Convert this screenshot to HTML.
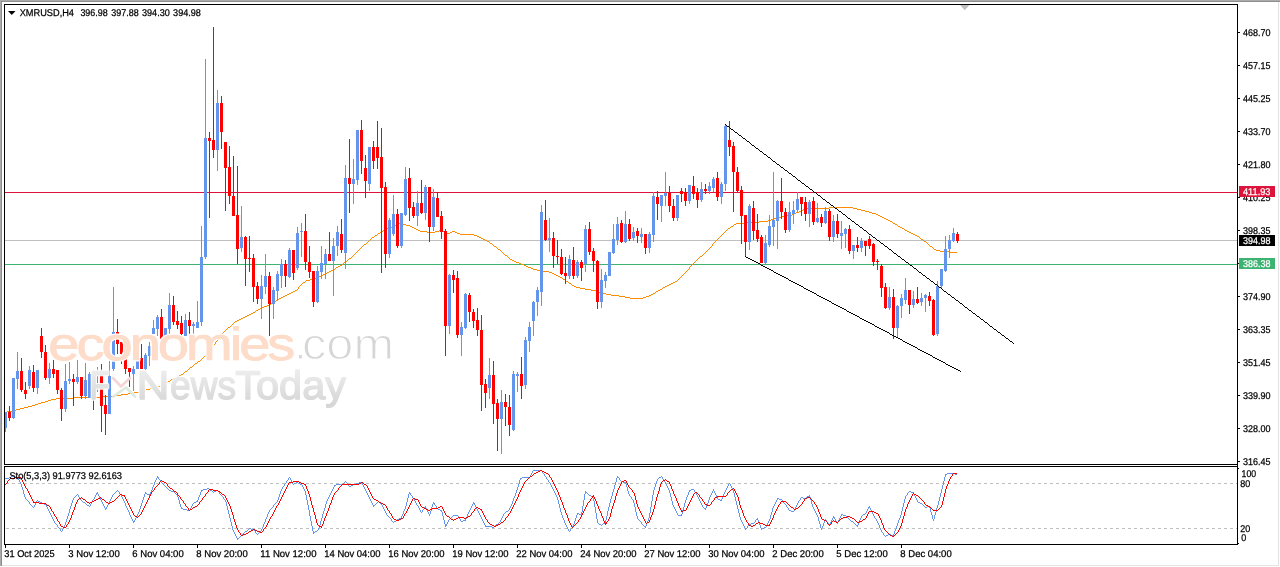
<!DOCTYPE html>
<html><head><meta charset="utf-8"><title>XMRUSD,H4</title>
<style>html,body{margin:0;padding:0;background:#fff;overflow:hidden}svg{display:block}text{font-family:"Liberation Sans",sans-serif;text-rendering:geometricPrecision}</style></head><body>
<svg width="1280" height="567" viewBox="0 0 1280 567">
<rect x="0" y="0" width="1280" height="567" fill="#ffffff"/>
<g shape-rendering="crispEdges">
<rect x="5" y="192" width="1232" height="1" fill="#DC143C"/>
<rect x="5" y="240" width="1232" height="1" fill="#C0C0C0"/>
<rect x="5" y="264" width="1232" height="1" fill="#3CB371"/>
</g>
<path d="M829 207h24v1h-24zM805 208h24v1h-24zM853 208h4v1h-4zM803 209h2v1h-2zM857 209h4v1h-4zM801 210h2v1h-2zM861 210h4v1h-4zM799 211h2v1h-2zM865 211h4v1h-4zM796 212h3v1h-3zM869 212h3v1h-3zM794 213h2v1h-2zM872 213h4v1h-4zM792 214h2v1h-2zM876 214h2v1h-2zM787 215h5v1h-5zM878 215h2v1h-2zM781 216h6v1h-6zM880 216h2v1h-2zM776 217h5v1h-5zM882 217h2v1h-2zM773 218h3v1h-3zM884 218h2v1h-2zM771 219h2v1h-2zM886 219h2v1h-2zM768 220h3v1h-3zM888 220h2v1h-2zM759 221h9v1h-9zM890 221h2v1h-2zM744 222h15v1h-15zM892 222h1v1h-1zM399 223h3v1h-3zM736 223h8v1h-8zM893 223h2v1h-2zM397 224h2v1h-2zM402 224h4v1h-4zM734 224h2v1h-2zM895 224h2v1h-2zM394 225h3v1h-3zM406 225h4v1h-4zM733 225h1v1h-1zM897 225h1v1h-1zM392 226h2v1h-2zM410 226h2v1h-2zM731 226h2v1h-2zM898 226h2v1h-2zM390 227h2v1h-2zM412 227h2v1h-2zM730 227h1v1h-1zM900 227h2v1h-2zM387 228h3v1h-3zM414 228h2v1h-2zM728 228h2v1h-2zM902 228h2v1h-2zM385 229h2v1h-2zM416 229h2v1h-2zM727 229h1v1h-1zM904 229h1v1h-1zM383 230h2v1h-2zM418 230h2v1h-2zM439 230h3v1h-3zM726 230h1v1h-1zM905 230h2v1h-2zM381 231h2v1h-2zM420 231h7v1h-7zM435 231h4v1h-4zM442 231h2v1h-2zM452 231h3v1h-3zM725 231h1v1h-1zM907 231h2v1h-2zM380 232h1v1h-1zM427 232h8v1h-8zM444 232h3v1h-3zM450 232h2v1h-2zM455 232h2v1h-2zM724 232h1v1h-1zM909 232h2v1h-2zM378 233h2v1h-2zM447 233h3v1h-3zM457 233h3v1h-3zM723 233h1v1h-1zM911 233h2v1h-2zM377 234h1v1h-1zM460 234h14v1h-14zM722 234h1v1h-1zM913 234h2v1h-2zM375 235h2v1h-2zM474 235h3v1h-3zM721 235h1v1h-1zM915 235h2v1h-2zM374 236h1v1h-1zM477 236h2v1h-2zM720 236h1v1h-1zM917 236h2v1h-2zM372 237h2v1h-2zM479 237h2v1h-2zM719 237h1v1h-1zM919 237h1v1h-1zM371 238h1v1h-1zM481 238h2v1h-2zM718 238h1v1h-1zM920 238h1v1h-1zM370 239h1v1h-1zM483 239h2v1h-2zM717 239h1v1h-1zM921 239h2v1h-2zM369 240h1v1h-1zM485 240h2v1h-2zM716 240h1v1h-1zM923 240h1v1h-1zM368 241h1v1h-1zM487 241h2v1h-2zM715 241h1v1h-1zM924 241h2v1h-2zM367 242h1v1h-1zM489 242h1v1h-1zM714 242h1v1h-1zM926 242h1v1h-1zM366 243h1v1h-1zM490 243h2v1h-2zM713 243h1v1h-1zM927 243h1v1h-1zM364 244h2v1h-2zM492 244h1v1h-1zM712 244h1v1h-1zM928 244h1v1h-1zM363 245h1v1h-1zM493 245h1v1h-1zM712 245h1v1h-1zM929 245h1v1h-1zM362 246h1v1h-1zM494 246h2v1h-2zM711 246h1v1h-1zM930 246h2v1h-2zM361 247h1v1h-1zM496 247h1v1h-1zM710 247h1v1h-1zM932 247h1v1h-1zM360 248h1v1h-1zM497 248h1v1h-1zM709 248h1v1h-1zM933 248h1v1h-1zM359 249h1v1h-1zM498 249h2v1h-2zM708 249h1v1h-1zM934 249h2v1h-2zM358 250h1v1h-1zM500 250h1v1h-1zM707 250h1v1h-1zM936 250h4v1h-4zM357 251h1v1h-1zM501 251h1v1h-1zM706 251h1v1h-1zM940 251h9v1h-9zM356 252h1v1h-1zM502 252h1v1h-1zM705 252h1v1h-1zM949 252h8v1h-8zM355 253h1v1h-1zM503 253h1v1h-1zM704 253h1v1h-1zM354 254h1v1h-1zM504 254h1v1h-1zM703 254h1v1h-1zM353 255h1v1h-1zM505 255h2v1h-2zM702 255h1v1h-1zM352 256h1v1h-1zM507 256h1v1h-1zM700 256h2v1h-2zM351 257h1v1h-1zM508 257h1v1h-1zM699 257h1v1h-1zM349 258h2v1h-2zM509 258h1v1h-1zM698 258h1v1h-1zM348 259h1v1h-1zM510 259h2v1h-2zM697 259h1v1h-1zM347 260h1v1h-1zM512 260h2v1h-2zM696 260h1v1h-1zM346 261h1v1h-1zM514 261h2v1h-2zM695 261h1v1h-1zM344 262h2v1h-2zM516 262h3v1h-3zM694 262h1v1h-1zM343 263h1v1h-1zM519 263h2v1h-2zM693 263h1v1h-1zM342 264h1v1h-1zM521 264h3v1h-3zM692 264h1v1h-1zM340 265h2v1h-2zM524 265h2v1h-2zM691 265h1v1h-1zM338 266h2v1h-2zM526 266h2v1h-2zM690 266h1v1h-1zM336 267h2v1h-2zM528 267h3v1h-3zM689 267h1v1h-1zM335 268h1v1h-1zM531 268h2v1h-2zM689 268h1v1h-1zM333 269h2v1h-2zM533 269h4v1h-4zM688 269h1v1h-1zM331 270h2v1h-2zM537 270h6v1h-6zM687 270h1v1h-1zM329 271h2v1h-2zM543 271h6v1h-6zM686 271h1v1h-1zM327 272h2v1h-2zM549 272h3v1h-3zM685 272h1v1h-1zM325 273h2v1h-2zM552 273h2v1h-2zM684 273h1v1h-1zM323 274h2v1h-2zM554 274h2v1h-2zM683 274h1v1h-1zM321 275h2v1h-2zM556 275h2v1h-2zM682 275h1v1h-1zM319 276h2v1h-2zM558 276h2v1h-2zM681 276h1v1h-1zM317 277h2v1h-2zM560 277h2v1h-2zM680 277h1v1h-1zM315 278h2v1h-2zM562 278h1v1h-1zM679 278h1v1h-1zM310 279h5v1h-5zM563 279h2v1h-2zM678 279h1v1h-1zM306 280h4v1h-4zM565 280h1v1h-1zM677 280h1v1h-1zM305 281h1v1h-1zM566 281h2v1h-2zM675 281h2v1h-2zM303 282h2v1h-2zM568 282h1v1h-1zM673 282h2v1h-2zM302 283h1v1h-1zM569 283h2v1h-2zM671 283h2v1h-2zM301 284h1v1h-1zM571 284h1v1h-1zM669 284h2v1h-2zM300 285h1v1h-1zM572 285h2v1h-2zM667 285h2v1h-2zM299 286h1v1h-1zM574 286h2v1h-2zM665 286h2v1h-2zM298 287h1v1h-1zM576 287h4v1h-4zM663 287h2v1h-2zM298 288h1v1h-1zM580 288h5v1h-5zM662 288h1v1h-1zM297 289h1v1h-1zM585 289h6v1h-6zM660 289h2v1h-2zM295 290h2v1h-2zM591 290h5v1h-5zM658 290h2v1h-2zM293 291h2v1h-2zM596 291h3v1h-3zM656 291h2v1h-2zM291 292h2v1h-2zM599 292h4v1h-4zM655 292h1v1h-1zM289 293h2v1h-2zM603 293h3v1h-3zM653 293h2v1h-2zM287 294h2v1h-2zM606 294h5v1h-5zM651 294h2v1h-2zM285 295h2v1h-2zM611 295h8v1h-8zM649 295h2v1h-2zM283 296h2v1h-2zM619 296h6v1h-6zM646 296h3v1h-3zM281 297h2v1h-2zM625 297h5v1h-5zM643 297h3v1h-3zM279 298h2v1h-2zM630 298h13v1h-13zM278 299h1v1h-1zM276 300h2v1h-2zM275 301h1v1h-1zM273 302h2v1h-2zM271 303h2v1h-2zM269 304h2v1h-2zM267 305h2v1h-2zM264 306h3v1h-3zM262 307h2v1h-2zM260 308h2v1h-2zM258 309h2v1h-2zM256 310h2v1h-2zM255 311h1v1h-1zM253 312h2v1h-2zM251 313h2v1h-2zM249 314h2v1h-2zM247 315h2v1h-2zM245 316h2v1h-2zM243 317h2v1h-2zM241 318h2v1h-2zM239 319h2v1h-2zM237 320h2v1h-2zM235 321h2v1h-2zM234 322h1v1h-1zM233 323h1v1h-1zM232 324h1v1h-1zM231 325h1v1h-1zM230 326h1v1h-1zM228 327h2v1h-2zM227 328h1v1h-1zM226 329h1v1h-1zM225 330h1v1h-1zM224 331h1v1h-1zM223 332h1v1h-1zM222 333h1v1h-1zM221 334h1v1h-1zM221 335h1v1h-1zM220 336h1v1h-1zM219 337h1v1h-1zM218 338h1v1h-1zM218 339h1v1h-1zM217 340h1v1h-1zM216 341h1v1h-1zM215 342h1v1h-1zM215 343h1v1h-1zM214 344h1v1h-1zM213 345h1v1h-1zM212 346h1v1h-1zM212 347h1v1h-1zM211 348h1v1h-1zM210 349h1v1h-1zM209 350h1v1h-1zM208 351h1v1h-1zM208 352h1v1h-1zM207 353h1v1h-1zM206 354h1v1h-1zM205 355h1v1h-1zM204 356h1v1h-1zM203 357h1v1h-1zM202 358h1v1h-1zM201 359h1v1h-1zM200 360h1v1h-1zM198 361h2v1h-2zM197 362h1v1h-1zM195 363h2v1h-2zM194 364h1v1h-1zM193 365h1v1h-1zM192 366h1v1h-1zM190 367h2v1h-2zM189 368h1v1h-1zM188 369h1v1h-1zM187 370h1v1h-1zM185 371h2v1h-2zM184 372h1v1h-1zM183 373h1v1h-1zM181 374h2v1h-2zM179 375h2v1h-2zM177 376h2v1h-2zM175 377h2v1h-2zM173 378h2v1h-2zM171 379h2v1h-2zM170 380h1v1h-1zM168 381h2v1h-2zM166 382h2v1h-2zM165 383h1v1h-1zM163 384h2v1h-2zM161 385h2v1h-2zM158 386h3v1h-3zM154 387h4v1h-4zM150 388h4v1h-4zM146 389h4v1h-4zM143 390h3v1h-3zM139 391h4v1h-4zM134 392h5v1h-5zM128 393h6v1h-6zM121 394h7v1h-7zM115 395h6v1h-6zM100 396h15v1h-15zM74 397h26v1h-26zM56 398h18v1h-18zM51 399h5v1h-5zM48 400h3v1h-3zM45 401h3v1h-3zM41 402h4v1h-4zM38 403h3v1h-3zM35 404h3v1h-3zM32 405h3v1h-3zM28 406h4v1h-4zM24 407h4v1h-4zM20 408h4v1h-4zM16 409h4v1h-4zM12 410h4v1h-4zM7 411h5v1h-5zM4 412h3v1h-3z" fill="#FF8C00" shape-rendering="crispEdges"/>
<g shape-rendering="crispEdges">
<rect x="5" y="412" width="1" height="20" fill="#6495ED"/>
<rect x="4" y="412" width="3" height="16" fill="#6495ED"/>
<rect x="9" y="406" width="1" height="15" fill="#FF0000"/>
<rect x="8" y="412" width="3" height="6" fill="#FF0000"/>
<rect x="13" y="378" width="1" height="41" fill="#6495ED"/>
<rect x="12" y="378" width="3" height="40" fill="#6495ED"/>
<rect x="17" y="352" width="1" height="37" fill="#6495ED"/>
<rect x="16" y="371" width="3" height="8" fill="#6495ED"/>
<rect x="21" y="358" width="1" height="34" fill="#FF0000"/>
<rect x="20" y="371" width="3" height="19" fill="#FF0000"/>
<rect x="25" y="382" width="1" height="17" fill="#FF0000"/>
<rect x="24" y="390" width="3" height="4" fill="#FF0000"/>
<rect x="29" y="366" width="1" height="23" fill="#6495ED"/>
<rect x="28" y="370" width="3" height="16" fill="#6495ED"/>
<rect x="33" y="365" width="1" height="27" fill="#FF0000"/>
<rect x="32" y="372" width="3" height="16" fill="#FF0000"/>
<rect x="37" y="370" width="1" height="24" fill="#6495ED"/>
<rect x="36" y="370" width="3" height="18" fill="#6495ED"/>
<rect x="41" y="328" width="1" height="30" fill="#FF0000"/>
<rect x="40" y="336" width="3" height="16" fill="#FF0000"/>
<rect x="45" y="345" width="1" height="35" fill="#FF0000"/>
<rect x="44" y="352" width="3" height="26" fill="#FF0000"/>
<rect x="49" y="363" width="1" height="21" fill="#6495ED"/>
<rect x="48" y="369" width="3" height="9" fill="#6495ED"/>
<rect x="53" y="360" width="1" height="18" fill="#FF0000"/>
<rect x="52" y="369" width="3" height="5" fill="#FF0000"/>
<rect x="57" y="370" width="1" height="24" fill="#FF0000"/>
<rect x="56" y="370" width="3" height="20" fill="#FF0000"/>
<rect x="61" y="388" width="1" height="33" fill="#FF0000"/>
<rect x="60" y="390" width="3" height="19" fill="#FF0000"/>
<rect x="65" y="364" width="1" height="48" fill="#6495ED"/>
<rect x="64" y="381" width="3" height="28" fill="#6495ED"/>
<rect x="69" y="362" width="1" height="22" fill="#6495ED"/>
<rect x="68" y="379" width="3" height="2" fill="#6495ED"/>
<rect x="73" y="374" width="1" height="32" fill="#FF0000"/>
<rect x="72" y="379" width="3" height="3" fill="#FF0000"/>
<rect x="77" y="360" width="1" height="24" fill="#6495ED"/>
<rect x="76" y="377" width="3" height="5" fill="#6495ED"/>
<rect x="81" y="377" width="1" height="22" fill="#FF0000"/>
<rect x="80" y="377" width="3" height="19" fill="#FF0000"/>
<rect x="85" y="363" width="1" height="36" fill="#6495ED"/>
<rect x="84" y="380" width="3" height="16" fill="#6495ED"/>
<rect x="89" y="372" width="1" height="26" fill="#6495ED"/>
<rect x="88" y="374" width="3" height="24" fill="#6495ED"/>
<rect x="93" y="373" width="1" height="37" fill="#FF0000"/>
<rect x="92" y="374" width="3" height="2" fill="#FF0000"/>
<rect x="97" y="367" width="1" height="25" fill="#6495ED"/>
<rect x="96" y="375" width="3" height="1" fill="#6495ED"/>
<rect x="101" y="364" width="1" height="68" fill="#FF0000"/>
<rect x="100" y="375" width="3" height="31" fill="#FF0000"/>
<rect x="105" y="395" width="1" height="40" fill="#FF0000"/>
<rect x="104" y="405" width="3" height="9" fill="#FF0000"/>
<rect x="109" y="361" width="1" height="53" fill="#6495ED"/>
<rect x="108" y="376" width="3" height="38" fill="#6495ED"/>
<rect x="113" y="287" width="1" height="84" fill="#6495ED"/>
<rect x="112" y="332" width="3" height="37" fill="#6495ED"/>
<rect x="117" y="319" width="1" height="35" fill="#FF0000"/>
<rect x="116" y="332" width="3" height="12" fill="#FF0000"/>
<rect x="121" y="342" width="1" height="22" fill="#FF0000"/>
<rect x="120" y="342" width="3" height="12" fill="#FF0000"/>
<rect x="125" y="354" width="1" height="20" fill="#FF0000"/>
<rect x="124" y="354" width="3" height="15" fill="#FF0000"/>
<rect x="129" y="368" width="1" height="19" fill="#FF0000"/>
<rect x="128" y="368" width="3" height="4" fill="#FF0000"/>
<rect x="133" y="366" width="1" height="25" fill="#6495ED"/>
<rect x="132" y="369" width="3" height="5" fill="#6495ED"/>
<rect x="137" y="361" width="1" height="8" fill="#6495ED"/>
<rect x="136" y="361" width="3" height="8" fill="#6495ED"/>
<rect x="141" y="344" width="1" height="25" fill="#FF0000"/>
<rect x="140" y="358" width="3" height="11" fill="#FF0000"/>
<rect x="145" y="353" width="1" height="28" fill="#6495ED"/>
<rect x="144" y="355" width="3" height="14" fill="#6495ED"/>
<rect x="149" y="342" width="1" height="24" fill="#6495ED"/>
<rect x="148" y="346" width="3" height="10" fill="#6495ED"/>
<rect x="153" y="320" width="1" height="14" fill="#6495ED"/>
<rect x="152" y="328" width="3" height="6" fill="#6495ED"/>
<rect x="157" y="315" width="1" height="21" fill="#6495ED"/>
<rect x="156" y="317" width="3" height="12" fill="#6495ED"/>
<rect x="161" y="309" width="1" height="30" fill="#FF0000"/>
<rect x="160" y="317" width="3" height="22" fill="#FF0000"/>
<rect x="165" y="328" width="1" height="10" fill="#6495ED"/>
<rect x="164" y="328" width="3" height="8" fill="#6495ED"/>
<rect x="169" y="293" width="1" height="41" fill="#6495ED"/>
<rect x="168" y="305" width="3" height="24" fill="#6495ED"/>
<rect x="173" y="296" width="1" height="29" fill="#FF0000"/>
<rect x="172" y="305" width="3" height="17" fill="#FF0000"/>
<rect x="177" y="311" width="1" height="18" fill="#FF0000"/>
<rect x="176" y="321" width="3" height="4" fill="#FF0000"/>
<rect x="181" y="316" width="1" height="33" fill="#FF0000"/>
<rect x="180" y="323" width="3" height="11" fill="#FF0000"/>
<rect x="185" y="314" width="1" height="22" fill="#6495ED"/>
<rect x="184" y="320" width="3" height="16" fill="#6495ED"/>
<rect x="189" y="312" width="1" height="28" fill="#FF0000"/>
<rect x="188" y="320" width="3" height="6" fill="#FF0000"/>
<rect x="193" y="322" width="1" height="15" fill="#6495ED"/>
<rect x="192" y="324" width="3" height="2" fill="#6495ED"/>
<rect x="197" y="301" width="1" height="27" fill="#6495ED"/>
<rect x="196" y="322" width="3" height="6" fill="#6495ED"/>
<rect x="201" y="226" width="1" height="100" fill="#6495ED"/>
<rect x="200" y="257" width="3" height="65" fill="#6495ED"/>
<rect x="205" y="59" width="1" height="200" fill="#6495ED"/>
<rect x="204" y="138" width="3" height="119" fill="#6495ED"/>
<rect x="209" y="132" width="1" height="86" fill="#FF0000"/>
<rect x="208" y="138" width="3" height="3" fill="#FF0000"/>
<rect x="213" y="27" width="1" height="131" fill="#FF0000"/>
<rect x="212" y="140" width="3" height="10" fill="#FF0000"/>
<rect x="217" y="90" width="1" height="81" fill="#6495ED"/>
<rect x="216" y="103" width="3" height="47" fill="#6495ED"/>
<rect x="221" y="96" width="1" height="53" fill="#FF0000"/>
<rect x="220" y="103" width="3" height="29" fill="#FF0000"/>
<rect x="225" y="142" width="1" height="69" fill="#FF0000"/>
<rect x="224" y="142" width="3" height="26" fill="#FF0000"/>
<rect x="229" y="146" width="1" height="58" fill="#FF0000"/>
<rect x="228" y="167" width="3" height="29" fill="#FF0000"/>
<rect x="233" y="156" width="1" height="60" fill="#FF0000"/>
<rect x="232" y="196" width="3" height="20" fill="#FF0000"/>
<rect x="237" y="166" width="1" height="98" fill="#FF0000"/>
<rect x="236" y="215" width="3" height="34" fill="#FF0000"/>
<rect x="241" y="206" width="1" height="46" fill="#6495ED"/>
<rect x="240" y="237" width="3" height="11" fill="#6495ED"/>
<rect x="245" y="236" width="1" height="50" fill="#FF0000"/>
<rect x="244" y="237" width="3" height="22" fill="#FF0000"/>
<rect x="249" y="236" width="1" height="36" fill="#FF0000"/>
<rect x="248" y="258" width="3" height="1" fill="#FF0000"/>
<rect x="253" y="254" width="1" height="48" fill="#FF0000"/>
<rect x="252" y="258" width="3" height="29" fill="#FF0000"/>
<rect x="257" y="282" width="1" height="22" fill="#FF0000"/>
<rect x="256" y="286" width="3" height="13" fill="#FF0000"/>
<rect x="261" y="275" width="1" height="44" fill="#6495ED"/>
<rect x="260" y="286" width="3" height="13" fill="#6495ED"/>
<rect x="265" y="254" width="1" height="40" fill="#6495ED"/>
<rect x="264" y="276" width="3" height="11" fill="#6495ED"/>
<rect x="269" y="272" width="1" height="64" fill="#FF0000"/>
<rect x="268" y="276" width="3" height="28" fill="#FF0000"/>
<rect x="273" y="287" width="1" height="32" fill="#6495ED"/>
<rect x="272" y="290" width="3" height="14" fill="#6495ED"/>
<rect x="277" y="271" width="1" height="29" fill="#6495ED"/>
<rect x="276" y="274" width="3" height="17" fill="#6495ED"/>
<rect x="281" y="259" width="1" height="29" fill="#6495ED"/>
<rect x="280" y="264" width="3" height="12" fill="#6495ED"/>
<rect x="285" y="260" width="1" height="27" fill="#FF0000"/>
<rect x="284" y="264" width="3" height="12" fill="#FF0000"/>
<rect x="289" y="248" width="1" height="30" fill="#6495ED"/>
<rect x="288" y="250" width="3" height="27" fill="#6495ED"/>
<rect x="293" y="250" width="1" height="30" fill="#FF0000"/>
<rect x="292" y="250" width="3" height="23" fill="#FF0000"/>
<rect x="297" y="227" width="1" height="43" fill="#6495ED"/>
<rect x="296" y="233" width="3" height="35" fill="#6495ED"/>
<rect x="301" y="223" width="1" height="34" fill="#6495ED"/>
<rect x="300" y="231" width="3" height="1" fill="#6495ED"/>
<rect x="305" y="214" width="1" height="56" fill="#FF0000"/>
<rect x="304" y="231" width="3" height="31" fill="#FF0000"/>
<rect x="309" y="246" width="1" height="32" fill="#FF0000"/>
<rect x="308" y="262" width="3" height="10" fill="#FF0000"/>
<rect x="313" y="271" width="1" height="36" fill="#FF0000"/>
<rect x="312" y="271" width="3" height="31" fill="#FF0000"/>
<rect x="317" y="266" width="1" height="37" fill="#6495ED"/>
<rect x="316" y="271" width="3" height="31" fill="#6495ED"/>
<rect x="321" y="246" width="1" height="33" fill="#6495ED"/>
<rect x="320" y="263" width="3" height="9" fill="#6495ED"/>
<rect x="325" y="249" width="1" height="30" fill="#6495ED"/>
<rect x="324" y="254" width="3" height="10" fill="#6495ED"/>
<rect x="329" y="232" width="1" height="29" fill="#FF0000"/>
<rect x="328" y="254" width="3" height="7" fill="#FF0000"/>
<rect x="333" y="238" width="1" height="58" fill="#6495ED"/>
<rect x="332" y="246" width="3" height="15" fill="#6495ED"/>
<rect x="337" y="226" width="1" height="30" fill="#6495ED"/>
<rect x="336" y="232" width="3" height="14" fill="#6495ED"/>
<rect x="341" y="219" width="1" height="34" fill="#FF0000"/>
<rect x="340" y="234" width="3" height="16" fill="#FF0000"/>
<rect x="345" y="165" width="1" height="104" fill="#6495ED"/>
<rect x="344" y="178" width="3" height="75" fill="#6495ED"/>
<rect x="349" y="139" width="1" height="74" fill="#FF0000"/>
<rect x="348" y="178" width="3" height="6" fill="#FF0000"/>
<rect x="353" y="159" width="1" height="45" fill="#6495ED"/>
<rect x="352" y="179" width="3" height="5" fill="#6495ED"/>
<rect x="357" y="130" width="1" height="55" fill="#6495ED"/>
<rect x="356" y="130" width="3" height="50" fill="#6495ED"/>
<rect x="361" y="120" width="1" height="54" fill="#FF0000"/>
<rect x="360" y="130" width="3" height="31" fill="#FF0000"/>
<rect x="365" y="155" width="1" height="43" fill="#FF0000"/>
<rect x="364" y="168" width="3" height="13" fill="#FF0000"/>
<rect x="369" y="147" width="1" height="44" fill="#6495ED"/>
<rect x="368" y="147" width="3" height="37" fill="#6495ED"/>
<rect x="373" y="141" width="1" height="28" fill="#FF0000"/>
<rect x="372" y="147" width="3" height="14" fill="#FF0000"/>
<rect x="377" y="121" width="1" height="48" fill="#FF0000"/>
<rect x="376" y="147" width="3" height="11" fill="#FF0000"/>
<rect x="381" y="128" width="1" height="145" fill="#FF0000"/>
<rect x="380" y="157" width="3" height="31" fill="#FF0000"/>
<rect x="385" y="182" width="1" height="86" fill="#FF0000"/>
<rect x="384" y="187" width="3" height="67" fill="#FF0000"/>
<rect x="389" y="218" width="1" height="40" fill="#6495ED"/>
<rect x="388" y="220" width="3" height="34" fill="#6495ED"/>
<rect x="393" y="195" width="1" height="41" fill="#6495ED"/>
<rect x="392" y="214" width="3" height="20" fill="#6495ED"/>
<rect x="397" y="209" width="1" height="39" fill="#FF0000"/>
<rect x="396" y="214" width="3" height="32" fill="#FF0000"/>
<rect x="401" y="213" width="1" height="35" fill="#6495ED"/>
<rect x="400" y="213" width="3" height="33" fill="#6495ED"/>
<rect x="405" y="167" width="1" height="49" fill="#6495ED"/>
<rect x="404" y="179" width="3" height="36" fill="#6495ED"/>
<rect x="409" y="168" width="1" height="53" fill="#FF0000"/>
<rect x="408" y="178" width="3" height="30" fill="#FF0000"/>
<rect x="413" y="202" width="1" height="16" fill="#FF0000"/>
<rect x="412" y="207" width="3" height="9" fill="#FF0000"/>
<rect x="417" y="191" width="1" height="35" fill="#6495ED"/>
<rect x="416" y="203" width="3" height="13" fill="#6495ED"/>
<rect x="421" y="180" width="1" height="34" fill="#FF0000"/>
<rect x="420" y="203" width="3" height="10" fill="#FF0000"/>
<rect x="425" y="185" width="1" height="35" fill="#6495ED"/>
<rect x="424" y="187" width="3" height="26" fill="#6495ED"/>
<rect x="429" y="187" width="1" height="55" fill="#FF0000"/>
<rect x="428" y="187" width="3" height="40" fill="#FF0000"/>
<rect x="433" y="189" width="1" height="42" fill="#6495ED"/>
<rect x="432" y="197" width="3" height="30" fill="#6495ED"/>
<rect x="437" y="192" width="1" height="25" fill="#FF0000"/>
<rect x="436" y="198" width="3" height="19" fill="#FF0000"/>
<rect x="441" y="211" width="1" height="28" fill="#FF0000"/>
<rect x="440" y="216" width="3" height="16" fill="#FF0000"/>
<rect x="445" y="229" width="1" height="127" fill="#FF0000"/>
<rect x="444" y="231" width="3" height="95" fill="#FF0000"/>
<rect x="449" y="274" width="1" height="60" fill="#6495ED"/>
<rect x="448" y="275" width="3" height="51" fill="#6495ED"/>
<rect x="453" y="270" width="1" height="23" fill="#FF0000"/>
<rect x="452" y="275" width="3" height="5" fill="#FF0000"/>
<rect x="457" y="271" width="1" height="67" fill="#FF0000"/>
<rect x="456" y="278" width="3" height="57" fill="#FF0000"/>
<rect x="461" y="322" width="1" height="34" fill="#6495ED"/>
<rect x="460" y="327" width="3" height="8" fill="#6495ED"/>
<rect x="465" y="293" width="1" height="36" fill="#6495ED"/>
<rect x="464" y="294" width="3" height="34" fill="#6495ED"/>
<rect x="469" y="293" width="1" height="29" fill="#FF0000"/>
<rect x="468" y="295" width="3" height="17" fill="#FF0000"/>
<rect x="473" y="309" width="1" height="19" fill="#FF0000"/>
<rect x="472" y="312" width="3" height="9" fill="#FF0000"/>
<rect x="477" y="308" width="1" height="28" fill="#FF0000"/>
<rect x="476" y="320" width="3" height="10" fill="#FF0000"/>
<rect x="481" y="315" width="1" height="96" fill="#FF0000"/>
<rect x="480" y="330" width="3" height="55" fill="#FF0000"/>
<rect x="485" y="379" width="1" height="29" fill="#FF0000"/>
<rect x="484" y="384" width="3" height="9" fill="#FF0000"/>
<rect x="489" y="358" width="1" height="41" fill="#6495ED"/>
<rect x="488" y="375" width="3" height="13" fill="#6495ED"/>
<rect x="493" y="361" width="1" height="63" fill="#FF0000"/>
<rect x="492" y="375" width="3" height="29" fill="#FF0000"/>
<rect x="497" y="399" width="1" height="52" fill="#FF0000"/>
<rect x="496" y="403" width="3" height="16" fill="#FF0000"/>
<rect x="501" y="390" width="1" height="64" fill="#6495ED"/>
<rect x="500" y="402" width="3" height="17" fill="#6495ED"/>
<rect x="505" y="394" width="1" height="32" fill="#FF0000"/>
<rect x="504" y="402" width="3" height="5" fill="#FF0000"/>
<rect x="509" y="395" width="1" height="41" fill="#FF0000"/>
<rect x="508" y="407" width="3" height="18" fill="#FF0000"/>
<rect x="513" y="371" width="1" height="60" fill="#6495ED"/>
<rect x="512" y="374" width="3" height="56" fill="#6495ED"/>
<rect x="517" y="372" width="1" height="20" fill="#6495ED"/>
<rect x="516" y="374" width="3" height="2" fill="#6495ED"/>
<rect x="521" y="357" width="1" height="42" fill="#FF0000"/>
<rect x="520" y="374" width="3" height="12" fill="#FF0000"/>
<rect x="525" y="337" width="1" height="52" fill="#6495ED"/>
<rect x="524" y="340" width="3" height="45" fill="#6495ED"/>
<rect x="529" y="322" width="1" height="30" fill="#6495ED"/>
<rect x="528" y="327" width="3" height="14" fill="#6495ED"/>
<rect x="533" y="301" width="1" height="35" fill="#6495ED"/>
<rect x="532" y="302" width="3" height="19" fill="#6495ED"/>
<rect x="537" y="287" width="1" height="29" fill="#6495ED"/>
<rect x="536" y="290" width="3" height="12" fill="#6495ED"/>
<rect x="541" y="205" width="1" height="101" fill="#6495ED"/>
<rect x="540" y="212" width="3" height="80" fill="#6495ED"/>
<rect x="545" y="200" width="1" height="41" fill="#FF0000"/>
<rect x="544" y="220" width="3" height="20" fill="#FF0000"/>
<rect x="549" y="218" width="1" height="34" fill="#6495ED"/>
<rect x="548" y="238" width="3" height="2" fill="#6495ED"/>
<rect x="553" y="232" width="1" height="36" fill="#FF0000"/>
<rect x="552" y="238" width="3" height="18" fill="#FF0000"/>
<rect x="557" y="240" width="1" height="24" fill="#FF0000"/>
<rect x="556" y="256" width="3" height="1" fill="#FF0000"/>
<rect x="561" y="249" width="1" height="26" fill="#FF0000"/>
<rect x="560" y="257" width="3" height="17" fill="#FF0000"/>
<rect x="565" y="257" width="1" height="27" fill="#FF0000"/>
<rect x="564" y="273" width="3" height="3" fill="#FF0000"/>
<rect x="569" y="255" width="1" height="24" fill="#6495ED"/>
<rect x="568" y="259" width="3" height="17" fill="#6495ED"/>
<rect x="573" y="247" width="1" height="32" fill="#FF0000"/>
<rect x="572" y="260" width="3" height="16" fill="#FF0000"/>
<rect x="577" y="260" width="1" height="18" fill="#6495ED"/>
<rect x="576" y="262" width="3" height="14" fill="#6495ED"/>
<rect x="581" y="260" width="1" height="21" fill="#FF0000"/>
<rect x="580" y="262" width="3" height="6" fill="#FF0000"/>
<rect x="585" y="225" width="1" height="47" fill="#6495ED"/>
<rect x="584" y="229" width="3" height="35" fill="#6495ED"/>
<rect x="589" y="222" width="1" height="33" fill="#FF0000"/>
<rect x="588" y="229" width="3" height="23" fill="#FF0000"/>
<rect x="593" y="248" width="1" height="24" fill="#FF0000"/>
<rect x="592" y="251" width="3" height="10" fill="#FF0000"/>
<rect x="597" y="260" width="1" height="49" fill="#FF0000"/>
<rect x="596" y="261" width="3" height="41" fill="#FF0000"/>
<rect x="601" y="269" width="1" height="39" fill="#6495ED"/>
<rect x="600" y="280" width="3" height="22" fill="#6495ED"/>
<rect x="605" y="272" width="1" height="16" fill="#6495ED"/>
<rect x="604" y="275" width="3" height="6" fill="#6495ED"/>
<rect x="609" y="252" width="1" height="24" fill="#6495ED"/>
<rect x="608" y="252" width="3" height="24" fill="#6495ED"/>
<rect x="613" y="224" width="1" height="30" fill="#6495ED"/>
<rect x="612" y="239" width="3" height="14" fill="#6495ED"/>
<rect x="617" y="217" width="1" height="28" fill="#6495ED"/>
<rect x="616" y="224" width="3" height="16" fill="#6495ED"/>
<rect x="621" y="220" width="1" height="23" fill="#FF0000"/>
<rect x="620" y="223" width="3" height="19" fill="#FF0000"/>
<rect x="625" y="211" width="1" height="32" fill="#6495ED"/>
<rect x="624" y="224" width="3" height="18" fill="#6495ED"/>
<rect x="629" y="219" width="1" height="22" fill="#FF0000"/>
<rect x="628" y="224" width="3" height="15" fill="#FF0000"/>
<rect x="633" y="227" width="1" height="14" fill="#6495ED"/>
<rect x="632" y="232" width="3" height="6" fill="#6495ED"/>
<rect x="637" y="228" width="1" height="15" fill="#FF0000"/>
<rect x="636" y="231" width="3" height="5" fill="#FF0000"/>
<rect x="641" y="228" width="1" height="15" fill="#6495ED"/>
<rect x="640" y="234" width="3" height="3" fill="#6495ED"/>
<rect x="645" y="234" width="1" height="20" fill="#FF0000"/>
<rect x="644" y="234" width="3" height="14" fill="#FF0000"/>
<rect x="649" y="232" width="1" height="21" fill="#6495ED"/>
<rect x="648" y="234" width="3" height="14" fill="#6495ED"/>
<rect x="653" y="192" width="1" height="50" fill="#6495ED"/>
<rect x="652" y="196" width="3" height="39" fill="#6495ED"/>
<rect x="657" y="191" width="1" height="29" fill="#FF0000"/>
<rect x="656" y="197" width="3" height="7" fill="#FF0000"/>
<rect x="661" y="195" width="1" height="27" fill="#6495ED"/>
<rect x="660" y="195" width="3" height="11" fill="#6495ED"/>
<rect x="665" y="172" width="1" height="34" fill="#6495ED"/>
<rect x="664" y="193" width="3" height="3" fill="#6495ED"/>
<rect x="669" y="186" width="1" height="26" fill="#FF0000"/>
<rect x="668" y="193" width="3" height="13" fill="#FF0000"/>
<rect x="673" y="199" width="1" height="22" fill="#FF0000"/>
<rect x="672" y="206" width="3" height="12" fill="#FF0000"/>
<rect x="677" y="195" width="1" height="26" fill="#6495ED"/>
<rect x="676" y="195" width="3" height="23" fill="#6495ED"/>
<rect x="681" y="188" width="1" height="14" fill="#FF0000"/>
<rect x="680" y="191" width="3" height="3" fill="#FF0000"/>
<rect x="685" y="188" width="1" height="18" fill="#FF0000"/>
<rect x="684" y="192" width="3" height="9" fill="#FF0000"/>
<rect x="689" y="185" width="1" height="19" fill="#6495ED"/>
<rect x="688" y="185" width="3" height="16" fill="#6495ED"/>
<rect x="693" y="176" width="1" height="23" fill="#FF0000"/>
<rect x="692" y="186" width="3" height="8" fill="#FF0000"/>
<rect x="697" y="188" width="1" height="20" fill="#FF0000"/>
<rect x="696" y="192" width="3" height="8" fill="#FF0000"/>
<rect x="701" y="182" width="1" height="20" fill="#6495ED"/>
<rect x="700" y="189" width="3" height="11" fill="#6495ED"/>
<rect x="705" y="184" width="1" height="10" fill="#FF0000"/>
<rect x="704" y="189" width="3" height="2" fill="#FF0000"/>
<rect x="709" y="182" width="1" height="12" fill="#6495ED"/>
<rect x="708" y="186" width="3" height="5" fill="#6495ED"/>
<rect x="713" y="177" width="1" height="15" fill="#6495ED"/>
<rect x="712" y="179" width="3" height="9" fill="#6495ED"/>
<rect x="717" y="172" width="1" height="29" fill="#FF0000"/>
<rect x="716" y="178" width="3" height="19" fill="#FF0000"/>
<rect x="721" y="182" width="1" height="22" fill="#6495ED"/>
<rect x="720" y="184" width="3" height="13" fill="#6495ED"/>
<rect x="725" y="124" width="1" height="67" fill="#6495ED"/>
<rect x="724" y="126" width="3" height="58" fill="#6495ED"/>
<rect x="729" y="121" width="1" height="35" fill="#FF0000"/>
<rect x="728" y="140" width="3" height="7" fill="#FF0000"/>
<rect x="733" y="142" width="1" height="70" fill="#FF0000"/>
<rect x="732" y="146" width="3" height="26" fill="#FF0000"/>
<rect x="737" y="167" width="1" height="25" fill="#FF0000"/>
<rect x="736" y="172" width="3" height="19" fill="#FF0000"/>
<rect x="741" y="186" width="1" height="58" fill="#FF0000"/>
<rect x="740" y="190" width="3" height="26" fill="#FF0000"/>
<rect x="745" y="215" width="1" height="41" fill="#FF0000"/>
<rect x="744" y="215" width="3" height="27" fill="#FF0000"/>
<rect x="749" y="204" width="1" height="46" fill="#6495ED"/>
<rect x="748" y="206" width="3" height="36" fill="#6495ED"/>
<rect x="753" y="201" width="1" height="39" fill="#FF0000"/>
<rect x="752" y="208" width="3" height="23" fill="#FF0000"/>
<rect x="757" y="214" width="1" height="28" fill="#FF0000"/>
<rect x="756" y="230" width="3" height="9" fill="#FF0000"/>
<rect x="761" y="235" width="1" height="28" fill="#FF0000"/>
<rect x="760" y="237" width="3" height="26" fill="#FF0000"/>
<rect x="765" y="235" width="1" height="30" fill="#6495ED"/>
<rect x="764" y="243" width="3" height="20" fill="#6495ED"/>
<rect x="769" y="215" width="1" height="32" fill="#6495ED"/>
<rect x="768" y="226" width="3" height="19" fill="#6495ED"/>
<rect x="773" y="172" width="1" height="74" fill="#6495ED"/>
<rect x="772" y="220" width="3" height="7" fill="#6495ED"/>
<rect x="777" y="200" width="1" height="49" fill="#6495ED"/>
<rect x="776" y="201" width="3" height="20" fill="#6495ED"/>
<rect x="781" y="178" width="1" height="41" fill="#FF0000"/>
<rect x="780" y="201" width="3" height="11" fill="#FF0000"/>
<rect x="785" y="208" width="1" height="25" fill="#FF0000"/>
<rect x="784" y="212" width="3" height="18" fill="#FF0000"/>
<rect x="789" y="202" width="1" height="30" fill="#6495ED"/>
<rect x="788" y="212" width="3" height="18" fill="#6495ED"/>
<rect x="793" y="201" width="1" height="23" fill="#6495ED"/>
<rect x="792" y="210" width="3" height="4" fill="#6495ED"/>
<rect x="797" y="192" width="1" height="20" fill="#6495ED"/>
<rect x="796" y="199" width="3" height="11" fill="#6495ED"/>
<rect x="801" y="197" width="1" height="19" fill="#FF0000"/>
<rect x="800" y="197" width="3" height="7" fill="#FF0000"/>
<rect x="805" y="197" width="1" height="24" fill="#FF0000"/>
<rect x="804" y="202" width="3" height="12" fill="#FF0000"/>
<rect x="809" y="200" width="1" height="27" fill="#6495ED"/>
<rect x="808" y="202" width="3" height="12" fill="#6495ED"/>
<rect x="813" y="197" width="1" height="28" fill="#FF0000"/>
<rect x="812" y="201" width="3" height="21" fill="#FF0000"/>
<rect x="817" y="203" width="1" height="20" fill="#6495ED"/>
<rect x="816" y="218" width="3" height="4" fill="#6495ED"/>
<rect x="821" y="214" width="1" height="13" fill="#FF0000"/>
<rect x="820" y="217" width="3" height="6" fill="#FF0000"/>
<rect x="825" y="207" width="1" height="17" fill="#6495ED"/>
<rect x="824" y="211" width="3" height="12" fill="#6495ED"/>
<rect x="829" y="209" width="1" height="32" fill="#FF0000"/>
<rect x="828" y="211" width="3" height="26" fill="#FF0000"/>
<rect x="833" y="215" width="1" height="27" fill="#6495ED"/>
<rect x="832" y="221" width="3" height="16" fill="#6495ED"/>
<rect x="837" y="214" width="1" height="24" fill="#FF0000"/>
<rect x="836" y="221" width="3" height="13" fill="#FF0000"/>
<rect x="841" y="221" width="1" height="28" fill="#6495ED"/>
<rect x="840" y="233" width="3" height="3" fill="#6495ED"/>
<rect x="845" y="228" width="1" height="20" fill="#6495ED"/>
<rect x="844" y="229" width="3" height="5" fill="#6495ED"/>
<rect x="849" y="225" width="1" height="29" fill="#FF0000"/>
<rect x="848" y="229" width="3" height="22" fill="#FF0000"/>
<rect x="853" y="245" width="1" height="14" fill="#6495ED"/>
<rect x="852" y="245" width="3" height="6" fill="#6495ED"/>
<rect x="857" y="237" width="1" height="15" fill="#FF0000"/>
<rect x="856" y="245" width="3" height="3" fill="#FF0000"/>
<rect x="861" y="238" width="1" height="14" fill="#6495ED"/>
<rect x="860" y="241" width="3" height="7" fill="#6495ED"/>
<rect x="865" y="241" width="1" height="15" fill="#FF0000"/>
<rect x="864" y="241" width="3" height="5" fill="#FF0000"/>
<rect x="869" y="236" width="1" height="13" fill="#FF0000"/>
<rect x="868" y="239" width="3" height="7" fill="#FF0000"/>
<rect x="873" y="243" width="1" height="23" fill="#FF0000"/>
<rect x="872" y="244" width="3" height="18" fill="#FF0000"/>
<rect x="877" y="259" width="1" height="11" fill="#FF0000"/>
<rect x="876" y="261" width="3" height="1" fill="#FF0000"/>
<rect x="881" y="264" width="1" height="33" fill="#FF0000"/>
<rect x="880" y="266" width="3" height="22" fill="#FF0000"/>
<rect x="885" y="283" width="1" height="26" fill="#FF0000"/>
<rect x="884" y="287" width="3" height="21" fill="#FF0000"/>
<rect x="889" y="287" width="1" height="23" fill="#6495ED"/>
<rect x="888" y="297" width="3" height="11" fill="#6495ED"/>
<rect x="893" y="289" width="1" height="50" fill="#FF0000"/>
<rect x="892" y="297" width="3" height="31" fill="#FF0000"/>
<rect x="897" y="305" width="1" height="33" fill="#6495ED"/>
<rect x="896" y="306" width="3" height="22" fill="#6495ED"/>
<rect x="901" y="294" width="1" height="24" fill="#6495ED"/>
<rect x="900" y="298" width="3" height="8" fill="#6495ED"/>
<rect x="905" y="278" width="1" height="26" fill="#6495ED"/>
<rect x="904" y="290" width="3" height="10" fill="#6495ED"/>
<rect x="909" y="290" width="1" height="24" fill="#FF0000"/>
<rect x="908" y="290" width="3" height="15" fill="#FF0000"/>
<rect x="913" y="291" width="1" height="17" fill="#6495ED"/>
<rect x="912" y="299" width="3" height="6" fill="#6495ED"/>
<rect x="917" y="287" width="1" height="17" fill="#FF0000"/>
<rect x="916" y="299" width="3" height="4" fill="#FF0000"/>
<rect x="921" y="293" width="1" height="13" fill="#6495ED"/>
<rect x="920" y="298" width="3" height="4" fill="#6495ED"/>
<rect x="925" y="294" width="1" height="18" fill="#6495ED"/>
<rect x="924" y="295" width="3" height="3" fill="#6495ED"/>
<rect x="929" y="292" width="1" height="14" fill="#FF0000"/>
<rect x="928" y="296" width="3" height="5" fill="#FF0000"/>
<rect x="933" y="299" width="1" height="37" fill="#FF0000"/>
<rect x="932" y="300" width="3" height="35" fill="#FF0000"/>
<rect x="937" y="281" width="1" height="55" fill="#6495ED"/>
<rect x="936" y="286" width="3" height="48" fill="#6495ED"/>
<rect x="941" y="269" width="1" height="19" fill="#6495ED"/>
<rect x="940" y="269" width="3" height="17" fill="#6495ED"/>
<rect x="945" y="236" width="1" height="36" fill="#6495ED"/>
<rect x="944" y="249" width="3" height="22" fill="#6495ED"/>
<rect x="949" y="235" width="1" height="23" fill="#6495ED"/>
<rect x="948" y="240" width="3" height="9" fill="#6495ED"/>
<rect x="953" y="228" width="1" height="14" fill="#6495ED"/>
<rect x="952" y="233" width="3" height="8" fill="#6495ED"/>
<rect x="957" y="232" width="1" height="11" fill="#FF0000"/>
<rect x="956" y="234" width="3" height="7" fill="#FF0000"/>
</g>
<path d="M725 124h1v1h-1zM726 125h1v1h-1zM727 126h2v1h-2zM729 127h1v1h-1zM730 128h1v1h-1zM731 129h2v1h-2zM733 130h1v1h-1zM734 131h1v1h-1zM735 132h2v1h-2zM737 133h1v1h-1zM738 134h1v1h-1zM739 135h2v1h-2zM741 136h1v1h-1zM742 137h1v1h-1zM743 138h2v1h-2zM745 139h1v1h-1zM746 140h1v1h-1zM747 141h2v1h-2zM749 142h1v1h-1zM750 143h1v1h-1zM751 144h1v1h-1zM752 145h2v1h-2zM754 146h1v1h-1zM755 147h1v1h-1zM756 148h2v1h-2zM758 149h1v1h-1zM759 150h1v1h-1zM760 151h2v1h-2zM762 152h1v1h-1zM763 153h1v1h-1zM764 154h2v1h-2zM766 155h1v1h-1zM767 156h1v1h-1zM768 157h2v1h-2zM770 158h1v1h-1zM771 159h1v1h-1zM772 160h1v1h-1zM773 161h2v1h-2zM775 162h1v1h-1zM776 163h1v1h-1zM777 164h2v1h-2zM779 165h1v1h-1zM780 166h1v1h-1zM781 167h2v1h-2zM783 168h1v1h-1zM784 169h1v1h-1zM785 170h2v1h-2zM787 171h1v1h-1zM788 172h1v1h-1zM789 173h2v1h-2zM791 174h1v1h-1zM792 175h1v1h-1zM793 176h2v1h-2zM795 177h1v1h-1zM796 178h1v1h-1zM797 179h1v1h-1zM798 180h2v1h-2zM800 181h1v1h-1zM801 182h1v1h-1zM802 183h2v1h-2zM804 184h1v1h-1zM805 185h1v1h-1zM806 186h2v1h-2zM808 187h1v1h-1zM809 188h1v1h-1zM810 189h2v1h-2zM812 190h1v1h-1zM813 191h1v1h-1zM814 192h2v1h-2zM816 193h1v1h-1zM817 194h1v1h-1zM818 195h2v1h-2zM820 196h1v1h-1zM821 197h1v1h-1zM822 198h1v1h-1zM823 199h2v1h-2zM825 200h1v1h-1zM826 201h1v1h-1zM827 202h2v1h-2zM829 203h1v1h-1zM830 204h1v1h-1zM831 205h2v1h-2zM833 206h1v1h-1zM834 207h1v1h-1zM835 208h2v1h-2zM837 209h1v1h-1zM838 210h1v1h-1zM839 211h2v1h-2zM841 212h1v1h-1zM842 213h1v1h-1zM843 214h2v1h-2zM845 215h1v1h-1zM846 216h1v1h-1zM847 217h1v1h-1zM848 218h2v1h-2zM850 219h1v1h-1zM851 220h1v1h-1zM852 221h2v1h-2zM854 222h1v1h-1zM855 223h1v1h-1zM856 224h2v1h-2zM858 225h1v1h-1zM859 226h1v1h-1zM860 227h2v1h-2zM862 228h1v1h-1zM863 229h1v1h-1zM864 230h2v1h-2zM866 231h1v1h-1zM867 232h1v1h-1zM868 233h1v1h-1zM869 234h2v1h-2zM871 235h1v1h-1zM872 236h1v1h-1zM873 237h2v1h-2zM875 238h1v1h-1zM876 239h1v1h-1zM877 240h2v1h-2zM879 241h1v1h-1zM880 242h1v1h-1zM881 243h2v1h-2zM883 244h1v1h-1zM884 245h1v1h-1zM885 246h2v1h-2zM887 247h1v1h-1zM888 248h1v1h-1zM889 249h2v1h-2zM891 250h1v1h-1zM892 251h1v1h-1zM893 252h1v1h-1zM894 253h2v1h-2zM896 254h1v1h-1zM897 255h1v1h-1zM898 256h2v1h-2zM900 257h1v1h-1zM901 258h1v1h-1zM902 259h2v1h-2zM904 260h1v1h-1zM905 261h1v1h-1zM906 262h2v1h-2zM908 263h1v1h-1zM909 264h1v1h-1zM910 265h2v1h-2zM912 266h1v1h-1zM913 267h1v1h-1zM914 268h2v1h-2zM916 269h1v1h-1zM917 270h1v1h-1zM918 271h1v1h-1zM919 272h2v1h-2zM921 273h1v1h-1zM922 274h1v1h-1zM923 275h2v1h-2zM925 276h1v1h-1zM926 277h1v1h-1zM927 278h2v1h-2zM929 279h1v1h-1zM930 280h1v1h-1zM931 281h2v1h-2zM933 282h1v1h-1zM934 283h1v1h-1zM935 284h2v1h-2zM937 285h1v1h-1zM938 286h1v1h-1zM939 287h2v1h-2zM941 288h1v1h-1zM942 289h1v1h-1zM943 290h1v1h-1zM944 291h2v1h-2zM946 292h1v1h-1zM947 293h1v1h-1zM948 294h2v1h-2zM950 295h1v1h-1zM951 296h1v1h-1zM952 297h2v1h-2zM954 298h1v1h-1zM955 299h1v1h-1zM956 300h2v1h-2zM958 301h1v1h-1zM959 302h1v1h-1zM960 303h2v1h-2zM962 304h1v1h-1zM963 305h1v1h-1zM964 306h1v1h-1zM965 307h2v1h-2zM967 308h1v1h-1zM968 309h1v1h-1zM969 310h2v1h-2zM971 311h1v1h-1zM972 312h1v1h-1zM973 313h2v1h-2zM975 314h1v1h-1zM976 315h1v1h-1zM977 316h2v1h-2zM979 317h1v1h-1zM980 318h1v1h-1zM981 319h2v1h-2zM983 320h1v1h-1zM984 321h1v1h-1zM985 322h2v1h-2zM987 323h1v1h-1zM988 324h1v1h-1zM989 325h1v1h-1zM990 326h2v1h-2zM992 327h1v1h-1zM993 328h1v1h-1zM994 329h2v1h-2zM996 330h1v1h-1zM997 331h1v1h-1zM998 332h2v1h-2zM1000 333h1v1h-1zM1001 334h1v1h-1zM1002 335h2v1h-2zM1004 336h1v1h-1zM1005 337h1v1h-1zM1006 338h2v1h-2zM1008 339h1v1h-1zM1009 340h1v1h-1zM1010 341h2v1h-2zM1012 342h1v1h-1zM1013 343h1v1h-1zM745 256h1v1h-1zM746 257h2v1h-2zM748 258h2v1h-2zM750 259h2v1h-2zM752 260h2v1h-2zM754 261h2v1h-2zM756 262h2v1h-2zM758 263h2v1h-2zM760 264h1v1h-1zM761 265h2v1h-2zM763 266h2v1h-2zM765 267h2v1h-2zM767 268h2v1h-2zM769 269h2v1h-2zM771 270h2v1h-2zM773 271h1v1h-1zM774 272h2v1h-2zM776 273h2v1h-2zM778 274h2v1h-2zM780 275h2v1h-2zM782 276h2v1h-2zM784 277h2v1h-2zM786 278h2v1h-2zM788 279h1v1h-1zM789 280h2v1h-2zM791 281h2v1h-2zM793 282h2v1h-2zM795 283h2v1h-2zM797 284h2v1h-2zM799 285h2v1h-2zM801 286h2v1h-2zM803 287h1v1h-1zM804 288h2v1h-2zM806 289h2v1h-2zM808 290h2v1h-2zM810 291h2v1h-2zM812 292h2v1h-2zM814 293h2v1h-2zM816 294h1v1h-1zM817 295h2v1h-2zM819 296h2v1h-2zM821 297h2v1h-2zM823 298h2v1h-2zM825 299h2v1h-2zM827 300h2v1h-2zM829 301h2v1h-2zM831 302h1v1h-1zM832 303h2v1h-2zM834 304h2v1h-2zM836 305h2v1h-2zM838 306h2v1h-2zM840 307h2v1h-2zM842 308h2v1h-2zM844 309h2v1h-2zM846 310h1v1h-1zM847 311h2v1h-2zM849 312h2v1h-2zM851 313h2v1h-2zM853 314h2v1h-2zM855 315h2v1h-2zM857 316h2v1h-2zM859 317h1v1h-1zM860 318h2v1h-2zM862 319h2v1h-2zM864 320h2v1h-2zM866 321h2v1h-2zM868 322h2v1h-2zM870 323h2v1h-2zM872 324h2v1h-2zM874 325h1v1h-1zM875 326h2v1h-2zM877 327h2v1h-2zM879 328h2v1h-2zM881 329h2v1h-2zM883 330h2v1h-2zM885 331h2v1h-2zM887 332h2v1h-2zM889 333h1v1h-1zM890 334h2v1h-2zM892 335h2v1h-2zM894 336h2v1h-2zM896 337h2v1h-2zM898 338h2v1h-2zM900 339h2v1h-2zM902 340h1v1h-1zM903 341h2v1h-2zM905 342h2v1h-2zM907 343h2v1h-2zM909 344h2v1h-2zM911 345h2v1h-2zM913 346h2v1h-2zM915 347h2v1h-2zM917 348h1v1h-1zM918 349h2v1h-2zM920 350h2v1h-2zM922 351h2v1h-2zM924 352h2v1h-2zM926 353h2v1h-2zM928 354h2v1h-2zM930 355h2v1h-2zM932 356h1v1h-1zM933 357h2v1h-2zM935 358h2v1h-2zM937 359h2v1h-2zM939 360h2v1h-2zM941 361h2v1h-2zM943 362h2v1h-2zM945 363h1v1h-1zM946 364h2v1h-2zM948 365h2v1h-2zM950 366h2v1h-2zM952 367h2v1h-2zM954 368h2v1h-2zM956 369h2v1h-2zM958 370h2v1h-2zM960 371h1v1h-1z" fill="#000" shape-rendering="crispEdges"/>
<defs><linearGradient id="gg" gradientUnits="userSpaceOnUse" x1="0" y1="366" x2="0" y2="404"><stop offset="0" stop-color="#F0F0F0"/><stop offset="1" stop-color="#D6D6D6"/></linearGradient></defs>
<g id="wm">
<g transform="translate(48.3,359.6) scale(1.205,1)" font-size="46.5" letter-spacing="-2.48" stroke-linejoin="round">
<text x="0" y="0" fill="#FDDCC9" stroke="#ffffff" stroke-width="3.2" paint-order="stroke">economies</text>
<text x="0" y="0" fill="#FDDCC9" stroke="#FDDCC9" stroke-width="0.7">economies</text>
</g>
<text x="294.3" y="359" font-size="44" fill="#D6D6D6" stroke="#ffffff" stroke-width="1.2" paint-order="fill">.</text>
<text x="302" y="359" font-size="44" textLength="92" lengthAdjust="spacingAndGlyphs" fill="#D6D6D6" stroke="#ffffff" stroke-width="1.2" paint-order="fill">com</text>
<g font-size="40" stroke-linejoin="round" fill="url(#gg)">
<text x="89.5" y="398.8" textLength="20" lengthAdjust="spacingAndGlyphs" stroke="#ffffff" stroke-width="3.6" paint-order="stroke" stroke-opacity="0.9">F</text>
<text x="89.5" y="398.8" textLength="20" lengthAdjust="spacingAndGlyphs" stroke="url(#gg)" stroke-width="1.3">F</text>
<text x="136.5" y="398.8" textLength="33" lengthAdjust="spacingAndGlyphs" stroke="#ffffff" stroke-width="3.6" paint-order="stroke" stroke-opacity="0.9">N</text>
<text x="136.5" y="398.8" textLength="33" lengthAdjust="spacingAndGlyphs" stroke="url(#gg)" stroke-width="1.3">N</text>
<text x="170" y="398.8" textLength="66" lengthAdjust="spacingAndGlyphs" stroke="#ffffff" stroke-width="3.6" paint-order="stroke" stroke-opacity="0.9">ews</text>
<text x="170" y="398.8" textLength="66" lengthAdjust="spacingAndGlyphs" stroke="url(#gg)" stroke-width="1.3">ews</text>
<text x="235.3" y="398.8" textLength="110.7" lengthAdjust="spacingAndGlyphs" stroke="#ffffff" stroke-width="3.6" paint-order="stroke" stroke-opacity="0.9">Today</text>
<text x="235.3" y="398.8" textLength="110.7" lengthAdjust="spacingAndGlyphs" stroke="url(#gg)" stroke-width="1.3">Today</text>
</g>
<polyline points="113,378 121,386.5 130,378" fill="none" stroke="#F4D6D6" stroke-width="2.6" stroke-linejoin="round" stroke-linecap="round"/>
<polyline points="113.5,396.5 126,387.5 135,396.5" fill="none" stroke="#DCEBDD" stroke-width="2.6" stroke-linejoin="round" stroke-linecap="round"/>
</g>
<g shape-rendering="crispEdges">
<line x1="6" y1="483.5" x2="1237" y2="483.5" stroke="#C0C0C0" stroke-width="1" stroke-dasharray="3 3"/>
<line x1="6" y1="528.5" x2="1237" y2="528.5" stroke="#C0C0C0" stroke-width="1" stroke-dasharray="3 3"/>
</g>
<path d="M533 470h9v1h-9zM532 471h1v1h-1zM542 471h1v1h-1zM532 472h1v1h-1zM542 472h1v1h-1zM531 473h1v1h-1zM543 473h1v1h-1zM947 473h8v1h-8zM531 474h1v1h-1zM544 474h1v1h-1zM945 474h2v1h-2zM955 474h2v1h-2zM530 475h1v1h-1zM544 475h1v1h-1zM945 475h1v1h-1zM11 476h3v1h-3zM157 476h1v1h-1zM530 476h1v1h-1zM545 476h1v1h-1zM617 476h1v1h-1zM661 476h1v1h-1zM945 476h1v1h-1zM9 477h2v1h-2zM14 477h3v1h-3zM157 477h2v1h-2zM289 477h1v1h-1zM522 477h8v1h-8zM546 477h1v1h-1zM617 477h2v1h-2zM659 477h2v1h-2zM662 477h1v1h-1zM944 477h1v1h-1zM4 478h5v1h-5zM17 478h2v1h-2zM156 478h1v1h-1zM158 478h1v1h-1zM288 478h1v1h-1zM290 478h1v1h-1zM520 478h2v1h-2zM546 478h1v1h-1zM616 478h1v1h-1zM619 478h1v1h-1zM658 478h1v1h-1zM662 478h1v1h-1zM944 478h1v1h-1zM18 479h1v1h-1zM156 479h1v1h-1zM159 479h1v1h-1zM288 479h1v1h-1zM290 479h1v1h-1zM520 479h1v1h-1zM547 479h1v1h-1zM616 479h1v1h-1zM619 479h1v1h-1zM657 479h1v1h-1zM663 479h1v1h-1zM944 479h1v1h-1zM19 480h1v1h-1zM155 480h1v1h-1zM160 480h1v1h-1zM287 480h1v1h-1zM291 480h1v1h-1zM519 480h1v1h-1zM548 480h1v1h-1zM616 480h1v1h-1zM620 480h1v1h-1zM657 480h1v1h-1zM664 480h1v1h-1zM944 480h1v1h-1zM19 481h1v1h-1zM155 481h1v1h-1zM160 481h1v1h-1zM286 481h1v1h-1zM291 481h1v1h-1zM345 481h1v1h-1zM519 481h1v1h-1zM548 481h1v1h-1zM616 481h1v1h-1zM621 481h2v1h-2zM656 481h1v1h-1zM664 481h1v1h-1zM943 481h1v1h-1zM20 482h1v1h-1zM154 482h1v1h-1zM161 482h1v1h-1zM286 482h1v1h-1zM292 482h1v1h-1zM296 482h2v1h-2zM344 482h1v1h-1zM346 482h1v1h-1zM359 482h3v1h-3zM519 482h1v1h-1zM549 482h1v1h-1zM615 482h1v1h-1zM623 482h3v1h-3zM656 482h1v1h-1zM665 482h1v1h-1zM943 482h1v1h-1zM20 483h1v1h-1zM154 483h1v1h-1zM162 483h1v1h-1zM285 483h1v1h-1zM292 483h1v1h-1zM294 483h2v1h-2zM298 483h2v1h-2zM343 483h1v1h-1zM347 483h1v1h-1zM356 483h3v1h-3zM362 483h1v1h-1zM519 483h1v1h-1zM550 483h1v1h-1zM615 483h1v1h-1zM625 483h1v1h-1zM656 483h1v1h-1zM665 483h1v1h-1zM729 483h1v1h-1zM943 483h1v1h-1zM21 484h1v1h-1zM154 484h1v1h-1zM163 484h1v1h-1zM284 484h1v1h-1zM293 484h1v1h-1zM300 484h2v1h-2zM336 484h7v1h-7zM347 484h1v1h-1zM353 484h3v1h-3zM362 484h1v1h-1zM518 484h1v1h-1zM550 484h1v1h-1zM615 484h1v1h-1zM626 484h1v1h-1zM655 484h1v1h-1zM666 484h1v1h-1zM728 484h1v1h-1zM730 484h1v1h-1zM943 484h1v1h-1zM21 485h1v1h-1zM153 485h1v1h-1zM164 485h1v1h-1zM284 485h1v1h-1zM302 485h1v1h-1zM334 485h2v1h-2zM348 485h1v1h-1zM351 485h2v1h-2zM363 485h1v1h-1zM518 485h1v1h-1zM551 485h1v1h-1zM614 485h1v1h-1zM626 485h1v1h-1zM655 485h1v1h-1zM666 485h1v1h-1zM728 485h1v1h-1zM730 485h1v1h-1zM942 485h1v1h-1zM21 486h1v1h-1zM153 486h1v1h-1zM165 486h1v1h-1zM283 486h1v1h-1zM302 486h1v1h-1zM334 486h1v1h-1zM349 486h2v1h-2zM363 486h1v1h-1zM518 486h1v1h-1zM551 486h1v1h-1zM614 486h1v1h-1zM626 486h1v1h-1zM655 486h1v1h-1zM667 486h1v1h-1zM727 486h1v1h-1zM731 486h1v1h-1zM942 486h1v1h-1zM22 487h1v1h-1zM152 487h1v1h-1zM166 487h1v1h-1zM282 487h1v1h-1zM303 487h1v1h-1zM333 487h1v1h-1zM364 487h1v1h-1zM517 487h1v1h-1zM552 487h1v1h-1zM614 487h1v1h-1zM627 487h1v1h-1zM654 487h1v1h-1zM667 487h1v1h-1zM727 487h1v1h-1zM731 487h1v1h-1zM942 487h1v1h-1zM22 488h1v1h-1zM152 488h1v1h-1zM167 488h1v1h-1zM207 488h2v1h-2zM282 488h1v1h-1zM303 488h1v1h-1zM333 488h1v1h-1zM364 488h1v1h-1zM517 488h1v1h-1zM552 488h1v1h-1zM614 488h1v1h-1zM627 488h1v1h-1zM654 488h1v1h-1zM668 488h1v1h-1zM726 488h1v1h-1zM732 488h1v1h-1zM942 488h1v1h-1zM22 489h1v1h-1zM152 489h1v1h-1zM168 489h1v1h-1zM203 489h4v1h-4zM209 489h1v1h-1zM281 489h1v1h-1zM304 489h1v1h-1zM332 489h1v1h-1zM365 489h1v1h-1zM517 489h1v1h-1zM553 489h1v1h-1zM613 489h1v1h-1zM627 489h1v1h-1zM654 489h1v1h-1zM668 489h1v1h-1zM691 489h3v1h-3zM713 489h1v1h-1zM726 489h1v1h-1zM732 489h1v1h-1zM941 489h1v1h-1zM23 490h1v1h-1zM117 490h1v1h-1zM151 490h1v1h-1zM169 490h2v1h-2zM201 490h2v1h-2zM210 490h2v1h-2zM216 490h2v1h-2zM281 490h1v1h-1zM304 490h1v1h-1zM332 490h1v1h-1zM365 490h1v1h-1zM516 490h1v1h-1zM553 490h1v1h-1zM613 490h1v1h-1zM627 490h1v1h-1zM653 490h1v1h-1zM669 490h1v1h-1zM689 490h2v1h-2zM694 490h1v1h-1zM713 490h1v1h-1zM725 490h1v1h-1zM733 490h1v1h-1zM941 490h1v1h-1zM23 491h1v1h-1zM116 491h1v1h-1zM118 491h1v1h-1zM151 491h1v1h-1zM171 491h3v1h-3zM201 491h1v1h-1zM212 491h1v1h-1zM214 491h2v1h-2zM218 491h1v1h-1zM280 491h1v1h-1zM305 491h1v1h-1zM331 491h1v1h-1zM366 491h1v1h-1zM516 491h1v1h-1zM554 491h1v1h-1zM585 491h1v1h-1zM613 491h1v1h-1zM628 491h1v1h-1zM653 491h1v1h-1zM669 491h1v1h-1zM689 491h1v1h-1zM694 491h1v1h-1zM712 491h1v1h-1zM714 491h1v1h-1zM725 491h1v1h-1zM733 491h1v1h-1zM909 491h2v1h-2zM941 491h1v1h-1zM23 492h1v1h-1zM97 492h1v1h-1zM115 492h1v1h-1zM119 492h1v1h-1zM145 492h1v1h-1zM150 492h1v1h-1zM174 492h1v1h-1zM200 492h1v1h-1zM213 492h1v1h-1zM219 492h1v1h-1zM280 492h1v1h-1zM305 492h1v1h-1zM331 492h1v1h-1zM366 492h1v1h-1zM409 492h1v1h-1zM516 492h1v1h-1zM554 492h1v1h-1zM585 492h2v1h-2zM612 492h1v1h-1zM628 492h1v1h-1zM653 492h1v1h-1zM669 492h1v1h-1zM688 492h1v1h-1zM695 492h1v1h-1zM712 492h1v1h-1zM714 492h1v1h-1zM724 492h1v1h-1zM733 492h1v1h-1zM908 492h1v1h-1zM911 492h3v1h-3zM941 492h1v1h-1zM23 493h1v1h-1zM96 493h2v1h-2zM114 493h1v1h-1zM119 493h1v1h-1zM145 493h2v1h-2zM150 493h1v1h-1zM175 493h1v1h-1zM200 493h1v1h-1zM219 493h1v1h-1zM280 493h1v1h-1zM305 493h1v1h-1zM330 493h1v1h-1zM367 493h1v1h-1zM409 493h2v1h-2zM515 493h1v1h-1zM555 493h1v1h-1zM585 493h1v1h-1zM587 493h1v1h-1zM612 493h1v1h-1zM628 493h1v1h-1zM653 493h1v1h-1zM670 493h1v1h-1zM688 493h1v1h-1zM696 493h1v1h-1zM711 493h1v1h-1zM715 493h1v1h-1zM724 493h1v1h-1zM734 493h1v1h-1zM907 493h1v1h-1zM913 493h1v1h-1zM940 493h1v1h-1zM24 494h1v1h-1zM77 494h1v1h-1zM96 494h1v1h-1zM98 494h1v1h-1zM113 494h1v1h-1zM120 494h1v1h-1zM144 494h1v1h-1zM147 494h3v1h-3zM176 494h1v1h-1zM200 494h1v1h-1zM220 494h1v1h-1zM279 494h1v1h-1zM305 494h1v1h-1zM330 494h1v1h-1zM367 494h1v1h-1zM408 494h1v1h-1zM410 494h1v1h-1zM515 494h1v1h-1zM555 494h1v1h-1zM584 494h1v1h-1zM588 494h1v1h-1zM612 494h1v1h-1zM629 494h1v1h-1zM653 494h1v1h-1zM670 494h1v1h-1zM688 494h1v1h-1zM696 494h1v1h-1zM711 494h1v1h-1zM715 494h1v1h-1zM723 494h1v1h-1zM734 494h1v1h-1zM907 494h1v1h-1zM914 494h1v1h-1zM940 494h1v1h-1zM24 495h1v1h-1zM76 495h1v1h-1zM78 495h1v1h-1zM95 495h1v1h-1zM98 495h1v1h-1zM112 495h1v1h-1zM121 495h1v1h-1zM144 495h1v1h-1zM149 495h1v1h-1zM177 495h1v1h-1zM199 495h1v1h-1zM221 495h1v1h-1zM279 495h1v1h-1zM306 495h1v1h-1zM329 495h1v1h-1zM368 495h1v1h-1zM408 495h1v1h-1zM411 495h1v1h-1zM515 495h1v1h-1zM556 495h1v1h-1zM584 495h1v1h-1zM589 495h2v1h-2zM612 495h1v1h-1zM629 495h1v1h-1zM652 495h1v1h-1zM670 495h1v1h-1zM687 495h1v1h-1zM697 495h1v1h-1zM710 495h1v1h-1zM716 495h1v1h-1zM723 495h1v1h-1zM734 495h1v1h-1zM809 495h1v1h-1zM906 495h1v1h-1zM914 495h1v1h-1zM940 495h1v1h-1zM24 496h1v1h-1zM75 496h1v1h-1zM78 496h1v1h-1zM95 496h1v1h-1zM99 496h1v1h-1zM112 496h1v1h-1zM121 496h1v1h-1zM144 496h1v1h-1zM177 496h1v1h-1zM199 496h1v1h-1zM222 496h1v1h-1zM279 496h1v1h-1zM306 496h1v1h-1zM329 496h1v1h-1zM368 496h1v1h-1zM408 496h1v1h-1zM412 496h1v1h-1zM514 496h1v1h-1zM556 496h1v1h-1zM584 496h1v1h-1zM591 496h1v1h-1zM611 496h1v1h-1zM630 496h1v1h-1zM652 496h1v1h-1zM670 496h1v1h-1zM687 496h1v1h-1zM697 496h1v1h-1zM710 496h1v1h-1zM716 496h1v1h-1zM723 496h1v1h-1zM734 496h1v1h-1zM807 496h3v1h-3zM905 496h1v1h-1zM915 496h1v1h-1zM940 496h1v1h-1zM25 497h1v1h-1zM74 497h1v1h-1zM79 497h1v1h-1zM94 497h1v1h-1zM99 497h1v1h-1zM111 497h1v1h-1zM122 497h1v1h-1zM143 497h1v1h-1zM178 497h1v1h-1zM198 497h1v1h-1zM223 497h1v1h-1zM278 497h1v1h-1zM306 497h1v1h-1zM328 497h1v1h-1zM369 497h1v1h-1zM408 497h1v1h-1zM412 497h1v1h-1zM514 497h1v1h-1zM557 497h1v1h-1zM584 497h1v1h-1zM592 497h1v1h-1zM611 497h1v1h-1zM631 497h1v1h-1zM652 497h1v1h-1zM671 497h1v1h-1zM686 497h1v1h-1zM698 497h1v1h-1zM709 497h1v1h-1zM717 497h1v1h-1zM722 497h1v1h-1zM735 497h1v1h-1zM801 497h2v1h-2zM806 497h1v1h-1zM810 497h1v1h-1zM905 497h1v1h-1zM915 497h1v1h-1zM939 497h1v1h-1zM25 498h1v1h-1zM73 498h1v1h-1zM80 498h1v1h-1zM94 498h1v1h-1zM100 498h1v1h-1zM111 498h1v1h-1zM122 498h1v1h-1zM143 498h1v1h-1zM178 498h1v1h-1zM198 498h1v1h-1zM223 498h1v1h-1zM278 498h1v1h-1zM306 498h1v1h-1zM328 498h1v1h-1zM369 498h1v1h-1zM407 498h1v1h-1zM413 498h1v1h-1zM513 498h1v1h-1zM557 498h1v1h-1zM584 498h1v1h-1zM593 498h1v1h-1zM611 498h1v1h-1zM631 498h1v1h-1zM652 498h1v1h-1zM671 498h1v1h-1zM686 498h1v1h-1zM698 498h1v1h-1zM709 498h1v1h-1zM717 498h1v1h-1zM722 498h1v1h-1zM735 498h1v1h-1zM777 498h2v1h-2zM800 498h1v1h-1zM803 498h3v1h-3zM810 498h1v1h-1zM905 498h1v1h-1zM916 498h1v1h-1zM939 498h1v1h-1zM26 499h1v1h-1zM73 499h1v1h-1zM80 499h1v1h-1zM93 499h1v1h-1zM100 499h1v1h-1zM110 499h1v1h-1zM123 499h1v1h-1zM143 499h1v1h-1zM178 499h1v1h-1zM198 499h1v1h-1zM224 499h1v1h-1zM278 499h1v1h-1zM306 499h1v1h-1zM327 499h1v1h-1zM370 499h1v1h-1zM407 499h1v1h-1zM414 499h1v1h-1zM513 499h1v1h-1zM557 499h1v1h-1zM584 499h1v1h-1zM593 499h1v1h-1zM610 499h1v1h-1zM632 499h1v1h-1zM652 499h1v1h-1zM671 499h1v1h-1zM686 499h1v1h-1zM699 499h1v1h-1zM709 499h1v1h-1zM718 499h2v1h-2zM721 499h1v1h-1zM735 499h1v1h-1zM777 499h1v1h-1zM779 499h3v1h-3zM800 499h1v1h-1zM810 499h1v1h-1zM904 499h1v1h-1zM916 499h1v1h-1zM939 499h1v1h-1zM27 500h1v1h-1zM37 500h1v1h-1zM72 500h1v1h-1zM81 500h1v1h-1zM92 500h1v1h-1zM101 500h1v1h-1zM110 500h1v1h-1zM123 500h1v1h-1zM142 500h1v1h-1zM179 500h1v1h-1zM197 500h1v1h-1zM225 500h1v1h-1zM277 500h1v1h-1zM307 500h1v1h-1zM327 500h1v1h-1zM370 500h1v1h-1zM407 500h1v1h-1zM414 500h1v1h-1zM513 500h1v1h-1zM558 500h1v1h-1zM583 500h1v1h-1zM593 500h1v1h-1zM610 500h1v1h-1zM633 500h1v1h-1zM652 500h1v1h-1zM671 500h1v1h-1zM685 500h1v1h-1zM699 500h1v1h-1zM708 500h1v1h-1zM720 500h2v1h-2zM735 500h1v1h-1zM776 500h1v1h-1zM782 500h1v1h-1zM799 500h1v1h-1zM811 500h1v1h-1zM904 500h1v1h-1zM917 500h1v1h-1zM939 500h1v1h-1zM28 501h1v1h-1zM36 501h1v1h-1zM38 501h2v1h-2zM72 501h1v1h-1zM82 501h1v1h-1zM92 501h1v1h-1zM101 501h1v1h-1zM109 501h1v1h-1zM124 501h1v1h-1zM142 501h1v1h-1zM179 501h1v1h-1zM196 501h2v1h-2zM225 501h1v1h-1zM277 501h1v1h-1zM307 501h1v1h-1zM326 501h1v1h-1zM371 501h1v1h-1zM378 501h1v1h-1zM407 501h1v1h-1zM415 501h1v1h-1zM512 501h1v1h-1zM558 501h1v1h-1zM583 501h1v1h-1zM594 501h1v1h-1zM610 501h1v1h-1zM633 501h1v1h-1zM651 501h1v1h-1zM672 501h1v1h-1zM685 501h1v1h-1zM700 501h1v1h-1zM708 501h1v1h-1zM736 501h1v1h-1zM776 501h1v1h-1zM783 501h1v1h-1zM798 501h1v1h-1zM811 501h1v1h-1zM904 501h1v1h-1zM917 501h1v1h-1zM938 501h1v1h-1zM29 502h1v1h-1zM36 502h1v1h-1zM40 502h2v1h-2zM72 502h1v1h-1zM83 502h2v1h-2zM91 502h1v1h-1zM102 502h1v1h-1zM109 502h1v1h-1zM124 502h1v1h-1zM142 502h1v1h-1zM179 502h1v1h-1zM194 502h2v1h-2zM226 502h1v1h-1zM276 502h1v1h-1zM307 502h1v1h-1zM326 502h1v1h-1zM371 502h1v1h-1zM377 502h1v1h-1zM379 502h1v1h-1zM406 502h1v1h-1zM415 502h1v1h-1zM433 502h1v1h-1zM473 502h1v1h-1zM512 502h1v1h-1zM558 502h1v1h-1zM583 502h1v1h-1zM594 502h1v1h-1zM610 502h1v1h-1zM633 502h1v1h-1zM651 502h1v1h-1zM672 502h1v1h-1zM685 502h1v1h-1zM700 502h1v1h-1zM708 502h1v1h-1zM736 502h1v1h-1zM775 502h1v1h-1zM783 502h1v1h-1zM798 502h1v1h-1zM811 502h1v1h-1zM904 502h1v1h-1zM918 502h2v1h-2zM938 502h1v1h-1zM29 503h1v1h-1zM35 503h1v1h-1zM42 503h2v1h-2zM71 503h1v1h-1zM85 503h1v1h-1zM91 503h1v1h-1zM102 503h1v1h-1zM108 503h1v1h-1zM125 503h1v1h-1zM141 503h1v1h-1zM179 503h1v1h-1zM193 503h1v1h-1zM226 503h1v1h-1zM275 503h1v1h-1zM307 503h1v1h-1zM326 503h1v1h-1zM372 503h1v1h-1zM376 503h1v1h-1zM380 503h1v1h-1zM406 503h1v1h-1zM416 503h1v1h-1zM433 503h2v1h-2zM473 503h2v1h-2zM512 503h1v1h-1zM558 503h1v1h-1zM583 503h1v1h-1zM594 503h1v1h-1zM609 503h1v1h-1zM634 503h1v1h-1zM651 503h1v1h-1zM672 503h1v1h-1zM684 503h1v1h-1zM701 503h1v1h-1zM707 503h1v1h-1zM736 503h1v1h-1zM775 503h1v1h-1zM784 503h1v1h-1zM797 503h1v1h-1zM811 503h1v1h-1zM903 503h1v1h-1zM920 503h2v1h-2zM938 503h1v1h-1zM30 504h1v1h-1zM35 504h1v1h-1zM44 504h2v1h-2zM71 504h1v1h-1zM86 504h1v1h-1zM90 504h1v1h-1zM103 504h1v1h-1zM108 504h1v1h-1zM125 504h1v1h-1zM141 504h1v1h-1zM180 504h1v1h-1zM192 504h1v1h-1zM226 504h1v1h-1zM274 504h1v1h-1zM307 504h1v1h-1zM325 504h1v1h-1zM372 504h1v1h-1zM375 504h1v1h-1zM381 504h1v1h-1zM406 504h1v1h-1zM416 504h1v1h-1zM432 504h1v1h-1zM434 504h1v1h-1zM472 504h1v1h-1zM474 504h1v1h-1zM511 504h1v1h-1zM559 504h1v1h-1zM583 504h1v1h-1zM594 504h1v1h-1zM609 504h1v1h-1zM634 504h1v1h-1zM651 504h1v1h-1zM672 504h1v1h-1zM684 504h1v1h-1zM701 504h1v1h-1zM707 504h1v1h-1zM736 504h1v1h-1zM774 504h1v1h-1zM785 504h1v1h-1zM797 504h1v1h-1zM812 504h1v1h-1zM903 504h1v1h-1zM922 504h1v1h-1zM938 504h1v1h-1zM31 505h1v1h-1zM34 505h1v1h-1zM46 505h1v1h-1zM71 505h1v1h-1zM87 505h2v1h-2zM90 505h1v1h-1zM103 505h1v1h-1zM107 505h1v1h-1zM125 505h1v1h-1zM141 505h1v1h-1zM180 505h1v1h-1zM192 505h1v1h-1zM226 505h1v1h-1zM273 505h1v1h-1zM308 505h1v1h-1zM325 505h1v1h-1zM373 505h2v1h-2zM382 505h1v1h-1zM406 505h1v1h-1zM417 505h1v1h-1zM432 505h1v1h-1zM435 505h1v1h-1zM472 505h1v1h-1zM475 505h1v1h-1zM511 505h1v1h-1zM559 505h1v1h-1zM583 505h1v1h-1zM594 505h1v1h-1zM609 505h1v1h-1zM634 505h1v1h-1zM651 505h1v1h-1zM673 505h1v1h-1zM684 505h1v1h-1zM702 505h1v1h-1zM706 505h1v1h-1zM737 505h1v1h-1zM774 505h1v1h-1zM786 505h1v1h-1zM796 505h1v1h-1zM812 505h1v1h-1zM903 505h1v1h-1zM923 505h1v1h-1zM937 505h1v1h-1zM32 506h1v1h-1zM34 506h1v1h-1zM46 506h1v1h-1zM70 506h1v1h-1zM89 506h1v1h-1zM104 506h1v1h-1zM107 506h1v1h-1zM126 506h1v1h-1zM140 506h1v1h-1zM180 506h1v1h-1zM191 506h1v1h-1zM227 506h1v1h-1zM273 506h1v1h-1zM308 506h1v1h-1zM325 506h1v1h-1zM373 506h1v1h-1zM382 506h1v1h-1zM405 506h1v1h-1zM418 506h1v1h-1zM425 506h1v1h-1zM432 506h1v1h-1zM436 506h1v1h-1zM471 506h1v1h-1zM475 506h1v1h-1zM510 506h1v1h-1zM559 506h1v1h-1zM582 506h1v1h-1zM594 506h1v1h-1zM609 506h1v1h-1zM634 506h1v1h-1zM651 506h1v1h-1zM673 506h1v1h-1zM684 506h1v1h-1zM702 506h1v1h-1zM706 506h1v1h-1zM737 506h1v1h-1zM773 506h1v1h-1zM786 506h1v1h-1zM796 506h1v1h-1zM812 506h1v1h-1zM869 506h1v1h-1zM903 506h1v1h-1zM924 506h1v1h-1zM927 506h3v1h-3zM937 506h1v1h-1zM33 507h1v1h-1zM47 507h1v1h-1zM70 507h1v1h-1zM104 507h1v1h-1zM106 507h1v1h-1zM126 507h1v1h-1zM140 507h1v1h-1zM181 507h1v1h-1zM191 507h1v1h-1zM227 507h1v1h-1zM272 507h1v1h-1zM308 507h1v1h-1zM325 507h1v1h-1zM383 507h1v1h-1zM405 507h1v1h-1zM418 507h1v1h-1zM424 507h2v1h-2zM431 507h1v1h-1zM436 507h1v1h-1zM471 507h1v1h-1zM476 507h1v1h-1zM510 507h1v1h-1zM559 507h1v1h-1zM582 507h1v1h-1zM595 507h1v1h-1zM608 507h1v1h-1zM635 507h1v1h-1zM650 507h1v1h-1zM674 507h1v1h-1zM683 507h1v1h-1zM703 507h1v1h-1zM706 507h1v1h-1zM737 507h1v1h-1zM773 507h1v1h-1zM787 507h1v1h-1zM795 507h1v1h-1zM813 507h1v1h-1zM868 507h2v1h-2zM902 507h1v1h-1zM925 507h2v1h-2zM929 507h1v1h-1zM937 507h1v1h-1zM47 508h1v1h-1zM70 508h1v1h-1zM105 508h2v1h-2zM127 508h1v1h-1zM140 508h1v1h-1zM181 508h2v1h-2zM190 508h1v1h-1zM227 508h1v1h-1zM271 508h1v1h-1zM308 508h1v1h-1zM324 508h1v1h-1zM383 508h1v1h-1zM405 508h1v1h-1zM419 508h1v1h-1zM424 508h1v1h-1zM426 508h1v1h-1zM431 508h1v1h-1zM437 508h1v1h-1zM470 508h1v1h-1zM476 508h1v1h-1zM509 508h1v1h-1zM560 508h1v1h-1zM582 508h1v1h-1zM595 508h1v1h-1zM608 508h1v1h-1zM635 508h1v1h-1zM650 508h1v1h-1zM674 508h1v1h-1zM683 508h1v1h-1zM704 508h2v1h-2zM737 508h1v1h-1zM772 508h1v1h-1zM788 508h1v1h-1zM795 508h1v1h-1zM813 508h1v1h-1zM868 508h1v1h-1zM870 508h1v1h-1zM902 508h1v1h-1zM930 508h1v1h-1zM936 508h1v1h-1zM48 509h1v1h-1zM69 509h1v1h-1zM105 509h1v1h-1zM127 509h1v1h-1zM139 509h1v1h-1zM183 509h4v1h-4zM190 509h1v1h-1zM227 509h1v1h-1zM270 509h1v1h-1zM308 509h1v1h-1zM324 509h1v1h-1zM384 509h1v1h-1zM404 509h1v1h-1zM419 509h1v1h-1zM423 509h1v1h-1zM426 509h1v1h-1zM431 509h1v1h-1zM438 509h2v1h-2zM470 509h1v1h-1zM477 509h1v1h-1zM509 509h1v1h-1zM560 509h1v1h-1zM582 509h1v1h-1zM595 509h1v1h-1zM608 509h1v1h-1zM635 509h1v1h-1zM650 509h1v1h-1zM675 509h1v1h-1zM683 509h1v1h-1zM705 509h1v1h-1zM738 509h1v1h-1zM772 509h1v1h-1zM788 509h1v1h-1zM794 509h1v1h-1zM814 509h1v1h-1zM867 509h1v1h-1zM870 509h1v1h-1zM902 509h1v1h-1zM930 509h1v1h-1zM936 509h1v1h-1zM48 510h1v1h-1zM69 510h1v1h-1zM128 510h1v1h-1zM139 510h1v1h-1zM187 510h3v1h-3zM228 510h1v1h-1zM269 510h1v1h-1zM309 510h1v1h-1zM324 510h1v1h-1zM384 510h1v1h-1zM404 510h1v1h-1zM420 510h1v1h-1zM422 510h1v1h-1zM427 510h1v1h-1zM431 510h1v1h-1zM440 510h2v1h-2zM469 510h1v1h-1zM477 510h1v1h-1zM508 510h1v1h-1zM560 510h1v1h-1zM582 510h1v1h-1zM595 510h1v1h-1zM608 510h1v1h-1zM635 510h1v1h-1zM650 510h1v1h-1zM675 510h1v1h-1zM682 510h1v1h-1zM738 510h1v1h-1zM772 510h1v1h-1zM789 510h2v1h-2zM794 510h1v1h-1zM814 510h1v1h-1zM867 510h1v1h-1zM871 510h1v1h-1zM902 510h1v1h-1zM930 510h1v1h-1zM936 510h1v1h-1zM49 511h1v1h-1zM69 511h1v1h-1zM128 511h1v1h-1zM139 511h1v1h-1zM228 511h1v1h-1zM269 511h1v1h-1zM309 511h1v1h-1zM323 511h1v1h-1zM385 511h1v1h-1zM403 511h1v1h-1zM420 511h1v1h-1zM422 511h1v1h-1zM427 511h1v1h-1zM430 511h1v1h-1zM441 511h1v1h-1zM469 511h1v1h-1zM478 511h1v1h-1zM506 511h2v1h-2zM560 511h1v1h-1zM582 511h1v1h-1zM595 511h1v1h-1zM607 511h1v1h-1zM635 511h1v1h-1zM650 511h1v1h-1zM676 511h1v1h-1zM682 511h1v1h-1zM738 511h1v1h-1zM772 511h1v1h-1zM791 511h3v1h-3zM815 511h1v1h-1zM866 511h1v1h-1zM871 511h1v1h-1zM901 511h1v1h-1zM930 511h1v1h-1zM936 511h1v1h-1zM49 512h1v1h-1zM69 512h1v1h-1zM129 512h1v1h-1zM138 512h1v1h-1zM228 512h1v1h-1zM268 512h1v1h-1zM309 512h1v1h-1zM323 512h1v1h-1zM385 512h1v1h-1zM403 512h1v1h-1zM421 512h1v1h-1zM428 512h1v1h-1zM430 512h1v1h-1zM442 512h1v1h-1zM468 512h1v1h-1zM478 512h1v1h-1zM505 512h1v1h-1zM561 512h1v1h-1zM581 512h1v1h-1zM595 512h1v1h-1zM607 512h1v1h-1zM636 512h1v1h-1zM650 512h1v1h-1zM676 512h1v1h-1zM682 512h1v1h-1zM738 512h1v1h-1zM771 512h1v1h-1zM815 512h1v1h-1zM866 512h1v1h-1zM872 512h1v1h-1zM901 512h1v1h-1zM931 512h1v1h-1zM935 512h1v1h-1zM50 513h1v1h-1zM68 513h1v1h-1zM129 513h1v1h-1zM138 513h1v1h-1zM228 513h1v1h-1zM268 513h1v1h-1zM309 513h1v1h-1zM323 513h1v1h-1zM386 513h1v1h-1zM403 513h1v1h-1zM428 513h1v1h-1zM430 513h1v1h-1zM442 513h1v1h-1zM468 513h1v1h-1zM479 513h1v1h-1zM504 513h1v1h-1zM561 513h1v1h-1zM577 513h2v1h-2zM581 513h1v1h-1zM596 513h1v1h-1zM607 513h1v1h-1zM636 513h1v1h-1zM649 513h1v1h-1zM677 513h1v1h-1zM682 513h1v1h-1zM739 513h1v1h-1zM771 513h1v1h-1zM816 513h1v1h-1zM865 513h1v1h-1zM872 513h1v1h-1zM901 513h1v1h-1zM931 513h1v1h-1zM935 513h1v1h-1zM50 514h1v1h-1zM68 514h1v1h-1zM129 514h1v1h-1zM137 514h1v1h-1zM229 514h1v1h-1zM267 514h1v1h-1zM309 514h1v1h-1zM322 514h1v1h-1zM386 514h1v1h-1zM402 514h1v1h-1zM429 514h1v1h-1zM442 514h1v1h-1zM467 514h1v1h-1zM479 514h1v1h-1zM503 514h1v1h-1zM561 514h1v1h-1zM577 514h1v1h-1zM579 514h3v1h-3zM596 514h1v1h-1zM607 514h1v1h-1zM636 514h1v1h-1zM649 514h1v1h-1zM677 514h1v1h-1zM681 514h1v1h-1zM739 514h1v1h-1zM771 514h1v1h-1zM816 514h1v1h-1zM841 514h2v1h-2zM863 514h2v1h-2zM873 514h1v1h-1zM901 514h1v1h-1zM931 514h1v1h-1zM935 514h1v1h-1zM51 515h1v1h-1zM68 515h1v1h-1zM130 515h1v1h-1zM137 515h1v1h-1zM229 515h1v1h-1zM267 515h1v1h-1zM309 515h1v1h-1zM322 515h1v1h-1zM387 515h1v1h-1zM402 515h1v1h-1zM429 515h1v1h-1zM442 515h1v1h-1zM453 515h5v1h-5zM467 515h1v1h-1zM480 515h1v1h-1zM503 515h1v1h-1zM562 515h1v1h-1zM576 515h1v1h-1zM596 515h1v1h-1zM607 515h1v1h-1zM636 515h1v1h-1zM649 515h1v1h-1zM678 515h4v1h-4zM739 515h1v1h-1zM770 515h1v1h-1zM817 515h1v1h-1zM841 515h1v1h-1zM843 515h3v1h-3zM862 515h1v1h-1zM873 515h1v1h-1zM900 515h1v1h-1zM932 515h1v1h-1zM934 515h1v1h-1zM51 516h1v1h-1zM67 516h1v1h-1zM130 516h1v1h-1zM136 516h1v1h-1zM229 516h1v1h-1zM267 516h1v1h-1zM310 516h1v1h-1zM322 516h1v1h-1zM388 516h1v1h-1zM401 516h1v1h-1zM443 516h1v1h-1zM452 516h1v1h-1zM458 516h1v1h-1zM467 516h1v1h-1zM480 516h1v1h-1zM502 516h1v1h-1zM562 516h1v1h-1zM576 516h1v1h-1zM596 516h1v1h-1zM606 516h1v1h-1zM637 516h1v1h-1zM649 516h1v1h-1zM739 516h1v1h-1zM770 516h1v1h-1zM817 516h1v1h-1zM833 516h1v1h-1zM840 516h1v1h-1zM846 516h1v1h-1zM861 516h1v1h-1zM874 516h1v1h-1zM900 516h1v1h-1zM932 516h1v1h-1zM934 516h1v1h-1zM52 517h1v1h-1zM67 517h1v1h-1zM131 517h1v1h-1zM136 517h1v1h-1zM229 517h1v1h-1zM266 517h1v1h-1zM310 517h1v1h-1zM322 517h1v1h-1zM389 517h1v1h-1zM401 517h1v1h-1zM443 517h1v1h-1zM451 517h1v1h-1zM458 517h1v1h-1zM466 517h1v1h-1zM481 517h1v1h-1zM502 517h1v1h-1zM562 517h1v1h-1zM576 517h1v1h-1zM596 517h1v1h-1zM606 517h1v1h-1zM637 517h1v1h-1zM649 517h1v1h-1zM740 517h1v1h-1zM770 517h1v1h-1zM818 517h1v1h-1zM833 517h2v1h-2zM840 517h1v1h-1zM847 517h1v1h-1zM861 517h1v1h-1zM874 517h1v1h-1zM900 517h1v1h-1zM932 517h1v1h-1zM934 517h1v1h-1zM52 518h1v1h-1zM67 518h1v1h-1zM131 518h1v1h-1zM135 518h1v1h-1zM230 518h1v1h-1zM266 518h1v1h-1zM310 518h1v1h-1zM321 518h1v1h-1zM390 518h1v1h-1zM399 518h2v1h-2zM443 518h1v1h-1zM450 518h1v1h-1zM459 518h1v1h-1zM466 518h1v1h-1zM481 518h1v1h-1zM501 518h1v1h-1zM563 518h1v1h-1zM575 518h1v1h-1zM596 518h1v1h-1zM606 518h1v1h-1zM637 518h1v1h-1zM648 518h1v1h-1zM740 518h1v1h-1zM757 518h1v1h-1zM770 518h1v1h-1zM818 518h1v1h-1zM832 518h1v1h-1zM834 518h1v1h-1zM839 518h1v1h-1zM848 518h1v1h-1zM860 518h1v1h-1zM875 518h1v1h-1zM899 518h1v1h-1zM932 518h1v1h-1zM934 518h1v1h-1zM53 519h1v1h-1zM66 519h1v1h-1zM132 519h1v1h-1zM135 519h1v1h-1zM230 519h1v1h-1zM265 519h1v1h-1zM310 519h1v1h-1zM321 519h1v1h-1zM391 519h1v1h-1zM397 519h2v1h-2zM443 519h1v1h-1zM449 519h1v1h-1zM460 519h1v1h-1zM465 519h1v1h-1zM482 519h1v1h-1zM501 519h1v1h-1zM563 519h1v1h-1zM575 519h1v1h-1zM597 519h1v1h-1zM606 519h1v1h-1zM638 519h1v1h-1zM648 519h1v1h-1zM740 519h1v1h-1zM756 519h2v1h-2zM769 519h1v1h-1zM818 519h1v1h-1zM825 519h1v1h-1zM832 519h1v1h-1zM835 519h1v1h-1zM839 519h1v1h-1zM849 519h1v1h-1zM860 519h1v1h-1zM876 519h1v1h-1zM899 519h1v1h-1zM933 519h1v1h-1zM53 520h1v1h-1zM66 520h1v1h-1zM132 520h1v1h-1zM134 520h1v1h-1zM230 520h1v1h-1zM265 520h1v1h-1zM310 520h1v1h-1zM321 520h1v1h-1zM391 520h1v1h-1zM396 520h1v1h-1zM444 520h1v1h-1zM448 520h1v1h-1zM460 520h1v1h-1zM463 520h3v1h-3zM482 520h1v1h-1zM500 520h1v1h-1zM564 520h1v1h-1zM575 520h1v1h-1zM597 520h1v1h-1zM605 520h1v1h-1zM639 520h1v1h-1zM648 520h1v1h-1zM741 520h1v1h-1zM755 520h1v1h-1zM758 520h1v1h-1zM769 520h1v1h-1zM818 520h1v1h-1zM825 520h2v1h-2zM831 520h1v1h-1zM835 520h1v1h-1zM838 520h1v1h-1zM850 520h1v1h-1zM859 520h1v1h-1zM876 520h1v1h-1zM898 520h1v1h-1zM933 520h1v1h-1zM54 521h1v1h-1zM66 521h1v1h-1zM133 521h2v1h-2zM230 521h1v1h-1zM265 521h1v1h-1zM311 521h1v1h-1zM320 521h1v1h-1zM392 521h1v1h-1zM394 521h2v1h-2zM444 521h1v1h-1zM448 521h1v1h-1zM461 521h2v1h-2zM483 521h1v1h-1zM500 521h1v1h-1zM564 521h1v1h-1zM574 521h1v1h-1zM597 521h1v1h-1zM605 521h1v1h-1zM640 521h1v1h-1zM647 521h1v1h-1zM741 521h1v1h-1zM755 521h1v1h-1zM758 521h1v1h-1zM768 521h1v1h-1zM819 521h1v1h-1zM824 521h1v1h-1zM826 521h1v1h-1zM831 521h1v1h-1zM836 521h1v1h-1zM838 521h1v1h-1zM851 521h2v1h-2zM859 521h1v1h-1zM877 521h1v1h-1zM898 521h1v1h-1zM54 522h1v1h-1zM65 522h1v1h-1zM133 522h1v1h-1zM231 522h1v1h-1zM264 522h1v1h-1zM311 522h1v1h-1zM320 522h1v1h-1zM393 522h1v1h-1zM444 522h1v1h-1zM447 522h1v1h-1zM483 522h1v1h-1zM499 522h1v1h-1zM564 522h1v1h-1zM574 522h1v1h-1zM597 522h1v1h-1zM605 522h1v1h-1zM641 522h1v1h-1zM647 522h1v1h-1zM742 522h1v1h-1zM754 522h1v1h-1zM758 522h1v1h-1zM768 522h1v1h-1zM819 522h1v1h-1zM824 522h1v1h-1zM827 522h1v1h-1zM830 522h1v1h-1zM836 522h2v1h-2zM853 522h1v1h-1zM859 522h1v1h-1zM877 522h1v1h-1zM898 522h1v1h-1zM55 523h1v1h-1zM65 523h1v1h-1zM231 523h1v1h-1zM264 523h1v1h-1zM311 523h1v1h-1zM320 523h1v1h-1zM444 523h1v1h-1zM447 523h1v1h-1zM484 523h1v1h-1zM498 523h1v1h-1zM565 523h1v1h-1zM574 523h1v1h-1zM598 523h1v1h-1zM603 523h2v1h-2zM641 523h1v1h-1zM646 523h1v1h-1zM742 523h1v1h-1zM751 523h3v1h-3zM759 523h1v1h-1zM767 523h1v1h-1zM819 523h1v1h-1zM823 523h1v1h-1zM828 523h1v1h-1zM830 523h1v1h-1zM837 523h1v1h-1zM854 523h1v1h-1zM858 523h1v1h-1zM878 523h1v1h-1zM897 523h1v1h-1zM56 524h1v1h-1zM65 524h1v1h-1zM231 524h1v1h-1zM263 524h1v1h-1zM311 524h1v1h-1zM320 524h1v1h-1zM445 524h2v1h-2zM484 524h1v1h-1zM496 524h2v1h-2zM565 524h1v1h-1zM573 524h1v1h-1zM599 524h2v1h-2zM602 524h1v1h-1zM642 524h1v1h-1zM646 524h1v1h-1zM743 524h1v1h-1zM749 524h2v1h-2zM759 524h1v1h-1zM767 524h1v1h-1zM820 524h1v1h-1zM823 524h1v1h-1zM828 524h2v1h-2zM855 524h1v1h-1zM858 524h1v1h-1zM878 524h1v1h-1zM897 524h1v1h-1zM57 525h1v1h-1zM64 525h1v1h-1zM231 525h1v1h-1zM263 525h1v1h-1zM311 525h1v1h-1zM319 525h1v1h-1zM445 525h2v1h-2zM485 525h1v1h-1zM495 525h1v1h-1zM566 525h1v1h-1zM573 525h1v1h-1zM601 525h1v1h-1zM643 525h1v1h-1zM646 525h1v1h-1zM743 525h1v1h-1zM748 525h1v1h-1zM760 525h1v1h-1zM766 525h1v1h-1zM820 525h1v1h-1zM823 525h1v1h-1zM829 525h1v1h-1zM856 525h2v1h-2zM879 525h1v1h-1zM897 525h1v1h-1zM57 526h1v1h-1zM64 526h1v1h-1zM232 526h1v1h-1zM263 526h1v1h-1zM312 526h1v1h-1zM319 526h1v1h-1zM445 526h1v1h-1zM485 526h7v1h-7zM494 526h1v1h-1zM566 526h1v1h-1zM572 526h1v1h-1zM644 526h2v1h-2zM744 526h1v1h-1zM747 526h1v1h-1zM760 526h1v1h-1zM766 526h1v1h-1zM820 526h1v1h-1zM822 526h1v1h-1zM857 526h1v1h-1zM879 526h1v1h-1zM896 526h1v1h-1zM58 527h1v1h-1zM63 527h1v1h-1zM232 527h1v1h-1zM262 527h1v1h-1zM312 527h1v1h-1zM319 527h1v1h-1zM492 527h2v1h-2zM567 527h1v1h-1zM572 527h1v1h-1zM645 527h1v1h-1zM744 527h1v1h-1zM747 527h1v1h-1zM760 527h1v1h-1zM764 527h2v1h-2zM820 527h1v1h-1zM822 527h1v1h-1zM879 527h1v1h-1zM896 527h1v1h-1zM59 528h1v1h-1zM63 528h1v1h-1zM232 528h1v1h-1zM249 528h2v1h-2zM262 528h1v1h-1zM312 528h1v1h-1zM318 528h1v1h-1zM567 528h1v1h-1zM571 528h1v1h-1zM745 528h2v1h-2zM761 528h3v1h-3zM821 528h1v1h-1zM880 528h1v1h-1zM896 528h1v1h-1zM60 529h1v1h-1zM62 529h1v1h-1zM232 529h1v1h-1zM248 529h1v1h-1zM251 529h3v1h-3zM261 529h1v1h-1zM312 529h1v1h-1zM318 529h1v1h-1zM568 529h1v1h-1zM570 529h1v1h-1zM745 529h1v1h-1zM761 529h1v1h-1zM821 529h1v1h-1zM880 529h1v1h-1zM895 529h1v1h-1zM60 530h1v1h-1zM62 530h1v1h-1zM233 530h1v1h-1zM247 530h1v1h-1zM254 530h1v1h-1zM261 530h1v1h-1zM312 530h1v1h-1zM317 530h1v1h-1zM568 530h1v1h-1zM570 530h1v1h-1zM881 530h1v1h-1zM895 530h1v1h-1zM61 531h1v1h-1zM233 531h1v1h-1zM245 531h2v1h-2zM255 531h1v1h-1zM260 531h1v1h-1zM313 531h1v1h-1zM315 531h2v1h-2zM569 531h1v1h-1zM881 531h1v1h-1zM894 531h1v1h-1zM234 532h1v1h-1zM244 532h1v1h-1zM255 532h1v1h-1zM259 532h1v1h-1zM313 532h2v1h-2zM882 532h1v1h-1zM894 532h1v1h-1zM234 533h1v1h-1zM243 533h1v1h-1zM256 533h1v1h-1zM258 533h1v1h-1zM313 533h1v1h-1zM883 533h1v1h-1zM894 533h1v1h-1zM235 534h1v1h-1zM242 534h1v1h-1zM257 534h1v1h-1zM883 534h1v1h-1zM888 534h3v1h-3zM893 534h1v1h-1zM235 535h1v1h-1zM241 535h1v1h-1zM884 535h1v1h-1zM886 535h2v1h-2zM891 535h3v1h-3zM236 536h1v1h-1zM240 536h1v1h-1zM885 536h1v1h-1zM236 537h1v1h-1zM239 537h1v1h-1zM237 538h2v1h-2zM237 539h1v1h-1z" fill="#6495ED" shape-rendering="crispEdges"/>
<path d="M540 470h2v1h-2zM538 471h2v1h-2zM542 471h2v1h-2zM536 472h2v1h-2zM544 472h2v1h-2zM534 473h2v1h-2zM546 473h2v1h-2zM953 473h4v1h-4zM533 474h1v1h-1zM548 474h1v1h-1zM952 474h1v1h-1zM532 475h1v1h-1zM549 475h1v1h-1zM952 475h1v1h-1zM530 476h2v1h-2zM549 476h1v1h-1zM951 476h1v1h-1zM15 477h6v1h-6zM529 477h1v1h-1zM550 477h1v1h-1zM950 477h1v1h-1zM10 478h5v1h-5zM21 478h1v1h-1zM528 478h1v1h-1zM551 478h1v1h-1zM950 478h1v1h-1zM9 479h1v1h-1zM21 479h1v1h-1zM527 479h1v1h-1zM551 479h1v1h-1zM665 479h1v1h-1zM949 479h1v1h-1zM8 480h1v1h-1zM22 480h1v1h-1zM161 480h1v1h-1zM526 480h1v1h-1zM552 480h1v1h-1zM624 480h2v1h-2zM663 480h2v1h-2zM666 480h1v1h-1zM949 480h1v1h-1zM7 481h1v1h-1zM22 481h1v1h-1zM160 481h1v1h-1zM162 481h2v1h-2zM293 481h6v1h-6zM525 481h1v1h-1zM552 481h1v1h-1zM622 481h2v1h-2zM626 481h1v1h-1zM662 481h1v1h-1zM667 481h2v1h-2zM948 481h1v1h-1zM7 482h1v1h-1zM23 482h1v1h-1zM159 482h1v1h-1zM164 482h2v1h-2zM289 482h4v1h-4zM299 482h2v1h-2zM361 482h2v1h-2zM524 482h1v1h-1zM553 482h1v1h-1zM621 482h1v1h-1zM626 482h1v1h-1zM661 482h1v1h-1zM669 482h1v1h-1zM948 482h1v1h-1zM6 483h1v1h-1zM23 483h1v1h-1zM159 483h1v1h-1zM166 483h1v1h-1zM288 483h1v1h-1zM301 483h3v1h-3zM359 483h2v1h-2zM363 483h1v1h-1zM524 483h1v1h-1zM553 483h1v1h-1zM621 483h1v1h-1zM627 483h1v1h-1zM661 483h1v1h-1zM669 483h1v1h-1zM948 483h1v1h-1zM5 484h1v1h-1zM24 484h1v1h-1zM158 484h1v1h-1zM167 484h1v1h-1zM288 484h1v1h-1zM304 484h2v1h-2zM342 484h17v1h-17zM364 484h2v1h-2zM523 484h1v1h-1zM554 484h1v1h-1zM620 484h1v1h-1zM627 484h1v1h-1zM660 484h1v1h-1zM670 484h1v1h-1zM947 484h1v1h-1zM4 485h1v1h-1zM24 485h1v1h-1zM157 485h1v1h-1zM167 485h1v1h-1zM287 485h1v1h-1zM305 485h1v1h-1zM341 485h1v1h-1zM366 485h1v1h-1zM523 485h1v1h-1zM554 485h1v1h-1zM620 485h1v1h-1zM628 485h1v1h-1zM660 485h1v1h-1zM670 485h1v1h-1zM947 485h1v1h-1zM25 486h1v1h-1zM156 486h1v1h-1zM168 486h1v1h-1zM287 486h1v1h-1zM306 486h1v1h-1zM340 486h1v1h-1zM367 486h1v1h-1zM522 486h1v1h-1zM555 486h1v1h-1zM619 486h1v1h-1zM628 486h1v1h-1zM660 486h1v1h-1zM671 486h1v1h-1zM946 486h1v1h-1zM25 487h1v1h-1zM155 487h1v1h-1zM169 487h1v1h-1zM286 487h1v1h-1zM306 487h1v1h-1zM339 487h1v1h-1zM367 487h1v1h-1zM522 487h1v1h-1zM555 487h1v1h-1zM619 487h1v1h-1zM629 487h1v1h-1zM659 487h1v1h-1zM671 487h1v1h-1zM946 487h1v1h-1zM26 488h1v1h-1zM154 488h1v1h-1zM170 488h2v1h-2zM286 488h1v1h-1zM306 488h1v1h-1zM338 488h1v1h-1zM368 488h1v1h-1zM521 488h1v1h-1zM556 488h1v1h-1zM618 488h1v1h-1zM630 488h1v1h-1zM659 488h1v1h-1zM671 488h1v1h-1zM733 488h1v1h-1zM946 488h1v1h-1zM27 489h1v1h-1zM154 489h1v1h-1zM172 489h1v1h-1zM209 489h4v1h-4zM285 489h1v1h-1zM307 489h1v1h-1zM338 489h1v1h-1zM368 489h1v1h-1zM521 489h1v1h-1zM556 489h1v1h-1zM618 489h1v1h-1zM631 489h1v1h-1zM659 489h1v1h-1zM672 489h1v1h-1zM731 489h2v1h-2zM734 489h1v1h-1zM945 489h1v1h-1zM27 490h1v1h-1zM153 490h1v1h-1zM173 490h1v1h-1zM208 490h1v1h-1zM213 490h5v1h-5zM285 490h1v1h-1zM307 490h1v1h-1zM337 490h1v1h-1zM369 490h1v1h-1zM520 490h1v1h-1zM557 490h1v1h-1zM617 490h1v1h-1zM632 490h1v1h-1zM659 490h1v1h-1zM672 490h1v1h-1zM730 490h1v1h-1zM734 490h1v1h-1zM945 490h1v1h-1zM28 491h1v1h-1zM152 491h1v1h-1zM174 491h2v1h-2zM208 491h1v1h-1zM218 491h2v1h-2zM284 491h1v1h-1zM308 491h1v1h-1zM336 491h1v1h-1zM369 491h1v1h-1zM520 491h1v1h-1zM557 491h1v1h-1zM617 491h1v1h-1zM632 491h1v1h-1zM658 491h1v1h-1zM673 491h1v1h-1zM729 491h1v1h-1zM735 491h1v1h-1zM945 491h1v1h-1zM28 492h1v1h-1zM151 492h1v1h-1zM176 492h1v1h-1zM207 492h1v1h-1zM220 492h1v1h-1zM284 492h1v1h-1zM308 492h1v1h-1zM335 492h1v1h-1zM370 492h1v1h-1zM519 492h1v1h-1zM558 492h1v1h-1zM617 492h1v1h-1zM633 492h1v1h-1zM658 492h1v1h-1zM673 492h1v1h-1zM695 492h2v1h-2zM728 492h1v1h-1zM735 492h1v1h-1zM945 492h1v1h-1zM29 493h1v1h-1zM151 493h1v1h-1zM177 493h1v1h-1zM206 493h1v1h-1zM221 493h1v1h-1zM283 493h1v1h-1zM308 493h1v1h-1zM334 493h1v1h-1zM370 493h1v1h-1zM519 493h1v1h-1zM558 493h1v1h-1zM616 493h1v1h-1zM634 493h1v1h-1zM658 493h1v1h-1zM673 493h1v1h-1zM694 493h1v1h-1zM697 493h1v1h-1zM727 493h1v1h-1zM736 493h1v1h-1zM913 493h1v1h-1zM944 493h1v1h-1zM29 494h1v1h-1zM120 494h2v1h-2zM150 494h1v1h-1zM177 494h1v1h-1zM205 494h1v1h-1zM222 494h2v1h-2zM283 494h1v1h-1zM309 494h1v1h-1zM334 494h1v1h-1zM371 494h1v1h-1zM518 494h1v1h-1zM558 494h1v1h-1zM616 494h1v1h-1zM634 494h1v1h-1zM657 494h1v1h-1zM674 494h1v1h-1zM693 494h1v1h-1zM698 494h1v1h-1zM727 494h1v1h-1zM736 494h1v1h-1zM912 494h1v1h-1zM914 494h2v1h-2zM944 494h1v1h-1zM30 495h1v1h-1zM119 495h1v1h-1zM122 495h3v1h-3zM150 495h1v1h-1zM178 495h1v1h-1zM205 495h1v1h-1zM224 495h1v1h-1zM282 495h1v1h-1zM309 495h1v1h-1zM333 495h1v1h-1zM371 495h1v1h-1zM518 495h1v1h-1zM559 495h1v1h-1zM593 495h1v1h-1zM616 495h1v1h-1zM634 495h1v1h-1zM657 495h1v1h-1zM674 495h1v1h-1zM693 495h1v1h-1zM699 495h1v1h-1zM726 495h1v1h-1zM737 495h1v1h-1zM912 495h1v1h-1zM916 495h2v1h-2zM944 495h1v1h-1zM30 496h1v1h-1zM118 496h1v1h-1zM124 496h1v1h-1zM149 496h1v1h-1zM179 496h1v1h-1zM204 496h1v1h-1zM225 496h1v1h-1zM282 496h1v1h-1zM309 496h1v1h-1zM333 496h1v1h-1zM372 496h1v1h-1zM518 496h1v1h-1zM559 496h1v1h-1zM592 496h2v1h-2zM615 496h1v1h-1zM635 496h1v1h-1zM657 496h1v1h-1zM675 496h1v1h-1zM692 496h1v1h-1zM699 496h1v1h-1zM717 496h9v1h-9zM737 496h1v1h-1zM911 496h1v1h-1zM918 496h1v1h-1zM944 496h1v1h-1zM31 497h1v1h-1zM81 497h1v1h-1zM100 497h1v1h-1zM117 497h1v1h-1zM125 497h1v1h-1zM149 497h1v1h-1zM180 497h1v1h-1zM203 497h1v1h-1zM225 497h1v1h-1zM281 497h1v1h-1zM310 497h1v1h-1zM332 497h1v1h-1zM372 497h1v1h-1zM517 497h1v1h-1zM560 497h1v1h-1zM592 497h1v1h-1zM594 497h1v1h-1zM615 497h1v1h-1zM635 497h1v1h-1zM656 497h1v1h-1zM675 497h1v1h-1zM692 497h1v1h-1zM700 497h1v1h-1zM715 497h2v1h-2zM738 497h1v1h-1zM807 497h3v1h-3zM911 497h1v1h-1zM919 497h1v1h-1zM943 497h1v1h-1zM31 498h1v1h-1zM79 498h2v1h-2zM82 498h1v1h-1zM98 498h2v1h-2zM101 498h1v1h-1zM116 498h1v1h-1zM125 498h1v1h-1zM148 498h1v1h-1zM180 498h1v1h-1zM202 498h1v1h-1zM226 498h1v1h-1zM281 498h1v1h-1zM310 498h1v1h-1zM332 498h1v1h-1zM373 498h1v1h-1zM413 498h2v1h-2zM517 498h1v1h-1zM560 498h1v1h-1zM591 498h1v1h-1zM594 498h1v1h-1zM615 498h1v1h-1zM635 498h1v1h-1zM656 498h1v1h-1zM676 498h1v1h-1zM691 498h1v1h-1zM701 498h1v1h-1zM714 498h1v1h-1zM738 498h1v1h-1zM805 498h2v1h-2zM810 498h1v1h-1zM910 498h1v1h-1zM920 498h1v1h-1zM943 498h1v1h-1zM32 499h1v1h-1zM78 499h1v1h-1zM83 499h2v1h-2zM96 499h2v1h-2zM102 499h2v1h-2zM115 499h1v1h-1zM126 499h1v1h-1zM148 499h1v1h-1zM181 499h1v1h-1zM202 499h1v1h-1zM226 499h1v1h-1zM280 499h1v1h-1zM310 499h1v1h-1zM332 499h1v1h-1zM374 499h2v1h-2zM412 499h1v1h-1zM415 499h3v1h-3zM516 499h1v1h-1zM560 499h1v1h-1zM590 499h1v1h-1zM595 499h1v1h-1zM615 499h1v1h-1zM635 499h1v1h-1zM656 499h1v1h-1zM676 499h1v1h-1zM691 499h1v1h-1zM702 499h1v1h-1zM714 499h1v1h-1zM738 499h1v1h-1zM804 499h1v1h-1zM811 499h1v1h-1zM910 499h1v1h-1zM921 499h1v1h-1zM943 499h1v1h-1zM32 500h1v1h-1zM77 500h1v1h-1zM85 500h1v1h-1zM94 500h2v1h-2zM104 500h1v1h-1zM114 500h1v1h-1zM126 500h1v1h-1zM147 500h1v1h-1zM182 500h1v1h-1zM201 500h1v1h-1zM227 500h1v1h-1zM280 500h1v1h-1zM310 500h1v1h-1zM331 500h1v1h-1zM376 500h2v1h-2zM412 500h1v1h-1zM418 500h1v1h-1zM516 500h1v1h-1zM561 500h1v1h-1zM590 500h1v1h-1zM595 500h1v1h-1zM614 500h1v1h-1zM636 500h1v1h-1zM656 500h1v1h-1zM676 500h1v1h-1zM690 500h1v1h-1zM702 500h1v1h-1zM713 500h1v1h-1zM738 500h1v1h-1zM804 500h1v1h-1zM812 500h1v1h-1zM909 500h1v1h-1zM922 500h1v1h-1zM943 500h1v1h-1zM33 501h1v1h-1zM77 501h1v1h-1zM86 501h1v1h-1zM92 501h2v1h-2zM105 501h1v1h-1zM112 501h2v1h-2zM127 501h1v1h-1zM147 501h1v1h-1zM183 501h1v1h-1zM200 501h1v1h-1zM227 501h1v1h-1zM279 501h1v1h-1zM311 501h1v1h-1zM331 501h1v1h-1zM378 501h1v1h-1zM411 501h1v1h-1zM418 501h1v1h-1zM515 501h1v1h-1zM561 501h1v1h-1zM589 501h1v1h-1zM596 501h1v1h-1zM614 501h1v1h-1zM636 501h1v1h-1zM655 501h1v1h-1zM677 501h1v1h-1zM690 501h1v1h-1zM703 501h1v1h-1zM712 501h1v1h-1zM739 501h1v1h-1zM781 501h5v1h-5zM803 501h1v1h-1zM813 501h1v1h-1zM909 501h1v1h-1zM923 501h1v1h-1zM942 501h1v1h-1zM33 502h6v1h-6zM76 502h1v1h-1zM87 502h2v1h-2zM90 502h2v1h-2zM106 502h2v1h-2zM110 502h2v1h-2zM127 502h1v1h-1zM146 502h1v1h-1zM183 502h1v1h-1zM199 502h1v1h-1zM228 502h1v1h-1zM279 502h1v1h-1zM311 502h1v1h-1zM331 502h1v1h-1zM379 502h2v1h-2zM411 502h1v1h-1zM419 502h1v1h-1zM515 502h1v1h-1zM562 502h1v1h-1zM588 502h1v1h-1zM596 502h1v1h-1zM614 502h1v1h-1zM636 502h1v1h-1zM655 502h1v1h-1zM677 502h1v1h-1zM689 502h1v1h-1zM704 502h1v1h-1zM711 502h1v1h-1zM739 502h1v1h-1zM780 502h1v1h-1zM786 502h1v1h-1zM802 502h1v1h-1zM814 502h1v1h-1zM908 502h1v1h-1zM924 502h1v1h-1zM942 502h1v1h-1zM39 503h7v1h-7zM76 503h1v1h-1zM89 503h1v1h-1zM108 503h2v1h-2zM128 503h1v1h-1zM146 503h1v1h-1zM184 503h1v1h-1zM199 503h1v1h-1zM228 503h1v1h-1zM278 503h1v1h-1zM311 503h1v1h-1zM330 503h1v1h-1zM381 503h2v1h-2zM410 503h1v1h-1zM419 503h1v1h-1zM514 503h1v1h-1zM562 503h1v1h-1zM587 503h1v1h-1zM596 503h1v1h-1zM613 503h1v1h-1zM636 503h1v1h-1zM655 503h1v1h-1zM678 503h1v1h-1zM689 503h1v1h-1zM704 503h1v1h-1zM711 503h1v1h-1zM739 503h1v1h-1zM780 503h1v1h-1zM787 503h1v1h-1zM802 503h1v1h-1zM814 503h1v1h-1zM908 503h1v1h-1zM924 503h1v1h-1zM942 503h1v1h-1zM46 504h1v1h-1zM75 504h1v1h-1zM128 504h1v1h-1zM145 504h1v1h-1zM185 504h1v1h-1zM198 504h1v1h-1zM229 504h1v1h-1zM278 504h1v1h-1zM311 504h1v1h-1zM330 504h1v1h-1zM383 504h2v1h-2zM410 504h1v1h-1zM420 504h1v1h-1zM514 504h1v1h-1zM562 504h1v1h-1zM587 504h1v1h-1zM597 504h1v1h-1zM613 504h1v1h-1zM637 504h1v1h-1zM655 504h1v1h-1zM678 504h1v1h-1zM688 504h1v1h-1zM705 504h2v1h-2zM710 504h1v1h-1zM739 504h1v1h-1zM779 504h1v1h-1zM788 504h1v1h-1zM801 504h1v1h-1zM815 504h1v1h-1zM907 504h1v1h-1zM925 504h1v1h-1zM942 504h1v1h-1zM47 505h2v1h-2zM75 505h1v1h-1zM129 505h1v1h-1zM145 505h1v1h-1zM185 505h1v1h-1zM197 505h1v1h-1zM229 505h1v1h-1zM277 505h1v1h-1zM312 505h1v1h-1zM329 505h1v1h-1zM385 505h1v1h-1zM409 505h1v1h-1zM420 505h1v1h-1zM513 505h1v1h-1zM563 505h1v1h-1zM586 505h1v1h-1zM597 505h1v1h-1zM613 505h1v1h-1zM637 505h1v1h-1zM654 505h1v1h-1zM678 505h1v1h-1zM688 505h1v1h-1zM707 505h3v1h-3zM740 505h1v1h-1zM778 505h1v1h-1zM789 505h1v1h-1zM800 505h1v1h-1zM816 505h1v1h-1zM907 505h1v1h-1zM926 505h2v1h-2zM941 505h1v1h-1zM49 506h1v1h-1zM75 506h1v1h-1zM129 506h1v1h-1zM144 506h1v1h-1zM186 506h1v1h-1zM195 506h2v1h-2zM230 506h1v1h-1zM276 506h1v1h-1zM312 506h1v1h-1zM329 506h1v1h-1zM386 506h1v1h-1zM409 506h1v1h-1zM421 506h1v1h-1zM440 506h2v1h-2zM513 506h1v1h-1zM563 506h1v1h-1zM586 506h1v1h-1zM598 506h1v1h-1zM612 506h1v1h-1zM637 506h1v1h-1zM654 506h1v1h-1zM679 506h1v1h-1zM687 506h1v1h-1zM740 506h1v1h-1zM778 506h1v1h-1zM790 506h1v1h-1zM799 506h1v1h-1zM816 506h1v1h-1zM907 506h1v1h-1zM928 506h2v1h-2zM941 506h1v1h-1zM50 507h1v1h-1zM74 507h1v1h-1zM130 507h1v1h-1zM144 507h1v1h-1zM187 507h1v1h-1zM193 507h2v1h-2zM230 507h1v1h-1zM276 507h1v1h-1zM312 507h1v1h-1zM329 507h1v1h-1zM386 507h1v1h-1zM408 507h1v1h-1zM422 507h2v1h-2zM438 507h2v1h-2zM442 507h1v1h-1zM476 507h2v1h-2zM512 507h1v1h-1zM563 507h1v1h-1zM585 507h1v1h-1zM598 507h1v1h-1zM612 507h1v1h-1zM638 507h1v1h-1zM654 507h1v1h-1zM679 507h1v1h-1zM687 507h1v1h-1zM740 507h1v1h-1zM777 507h1v1h-1zM791 507h2v1h-2zM798 507h1v1h-1zM817 507h1v1h-1zM906 507h1v1h-1zM930 507h1v1h-1zM940 507h1v1h-1zM50 508h1v1h-1zM74 508h1v1h-1zM130 508h1v1h-1zM143 508h1v1h-1zM188 508h1v1h-1zM192 508h1v1h-1zM230 508h1v1h-1zM275 508h1v1h-1zM313 508h1v1h-1zM328 508h1v1h-1zM387 508h1v1h-1zM408 508h1v1h-1zM424 508h2v1h-2zM432 508h6v1h-6zM442 508h1v1h-1zM475 508h1v1h-1zM478 508h2v1h-2zM512 508h1v1h-1zM564 508h1v1h-1zM585 508h1v1h-1zM598 508h1v1h-1zM612 508h1v1h-1zM638 508h1v1h-1zM654 508h1v1h-1zM680 508h1v1h-1zM686 508h1v1h-1zM741 508h1v1h-1zM777 508h1v1h-1zM793 508h1v1h-1zM796 508h2v1h-2zM817 508h1v1h-1zM906 508h1v1h-1zM931 508h1v1h-1zM939 508h1v1h-1zM51 509h1v1h-1zM74 509h1v1h-1zM131 509h1v1h-1zM143 509h1v1h-1zM188 509h1v1h-1zM190 509h2v1h-2zM231 509h1v1h-1zM275 509h1v1h-1zM313 509h1v1h-1zM328 509h1v1h-1zM387 509h1v1h-1zM407 509h1v1h-1zM426 509h2v1h-2zM430 509h2v1h-2zM443 509h1v1h-1zM474 509h1v1h-1zM480 509h2v1h-2zM511 509h1v1h-1zM564 509h1v1h-1zM584 509h1v1h-1zM599 509h1v1h-1zM611 509h1v1h-1zM639 509h1v1h-1zM653 509h1v1h-1zM680 509h1v1h-1zM686 509h1v1h-1zM741 509h1v1h-1zM776 509h1v1h-1zM794 509h2v1h-2zM818 509h1v1h-1zM905 509h1v1h-1zM932 509h1v1h-1zM938 509h1v1h-1zM51 510h1v1h-1zM73 510h1v1h-1zM131 510h1v1h-1zM142 510h1v1h-1zM189 510h1v1h-1zM231 510h1v1h-1zM274 510h1v1h-1zM313 510h1v1h-1zM328 510h1v1h-1zM388 510h1v1h-1zM407 510h1v1h-1zM428 510h2v1h-2zM443 510h1v1h-1zM474 510h1v1h-1zM481 510h1v1h-1zM511 510h1v1h-1zM565 510h1v1h-1zM584 510h1v1h-1zM599 510h1v1h-1zM611 510h1v1h-1zM639 510h1v1h-1zM653 510h1v1h-1zM681 510h1v1h-1zM683 510h3v1h-3zM742 510h1v1h-1zM776 510h1v1h-1zM818 510h1v1h-1zM905 510h1v1h-1zM933 510h5v1h-5zM52 511h1v1h-1zM73 511h1v1h-1zM132 511h1v1h-1zM142 511h1v1h-1zM231 511h1v1h-1zM274 511h1v1h-1zM313 511h1v1h-1zM327 511h1v1h-1zM389 511h1v1h-1zM406 511h1v1h-1zM444 511h1v1h-1zM473 511h1v1h-1zM482 511h1v1h-1zM510 511h1v1h-1zM565 511h1v1h-1zM583 511h1v1h-1zM600 511h1v1h-1zM611 511h1v1h-1zM640 511h1v1h-1zM653 511h1v1h-1zM681 511h2v1h-2zM742 511h1v1h-1zM775 511h1v1h-1zM818 511h1v1h-1zM869 511h5v1h-5zM905 511h1v1h-1zM53 512h1v1h-1zM72 512h1v1h-1zM132 512h1v1h-1zM141 512h1v1h-1zM232 512h1v1h-1zM273 512h1v1h-1zM314 512h1v1h-1zM327 512h1v1h-1zM389 512h1v1h-1zM406 512h1v1h-1zM444 512h1v1h-1zM472 512h1v1h-1zM482 512h1v1h-1zM510 512h1v1h-1zM565 512h1v1h-1zM583 512h1v1h-1zM600 512h1v1h-1zM611 512h1v1h-1zM640 512h1v1h-1zM652 512h1v1h-1zM742 512h1v1h-1zM775 512h1v1h-1zM819 512h1v1h-1zM868 512h1v1h-1zM874 512h2v1h-2zM904 512h1v1h-1zM53 513h1v1h-1zM72 513h1v1h-1zM133 513h1v1h-1zM141 513h1v1h-1zM232 513h1v1h-1zM273 513h1v1h-1zM314 513h1v1h-1zM326 513h1v1h-1zM390 513h1v1h-1zM405 513h1v1h-1zM445 513h1v1h-1zM471 513h1v1h-1zM483 513h1v1h-1zM509 513h1v1h-1zM566 513h1v1h-1zM582 513h1v1h-1zM601 513h1v1h-1zM610 513h1v1h-1zM641 513h1v1h-1zM652 513h1v1h-1zM743 513h1v1h-1zM774 513h1v1h-1zM819 513h1v1h-1zM868 513h1v1h-1zM876 513h2v1h-2zM904 513h1v1h-1zM54 514h1v1h-1zM72 514h1v1h-1zM133 514h1v1h-1zM140 514h1v1h-1zM232 514h1v1h-1zM272 514h1v1h-1zM314 514h1v1h-1zM326 514h1v1h-1zM391 514h1v1h-1zM404 514h1v1h-1zM445 514h1v1h-1zM471 514h1v1h-1zM483 514h1v1h-1zM508 514h1v1h-1zM566 514h1v1h-1zM582 514h1v1h-1zM601 514h1v1h-1zM610 514h1v1h-1zM641 514h1v1h-1zM652 514h1v1h-1zM743 514h1v1h-1zM774 514h1v1h-1zM820 514h1v1h-1zM867 514h1v1h-1zM878 514h1v1h-1zM904 514h1v1h-1zM54 515h1v1h-1zM71 515h1v1h-1zM134 515h1v1h-1zM139 515h1v1h-1zM233 515h1v1h-1zM272 515h1v1h-1zM315 515h1v1h-1zM326 515h1v1h-1zM391 515h1v1h-1zM404 515h1v1h-1zM446 515h1v1h-1zM470 515h1v1h-1zM484 515h1v1h-1zM508 515h1v1h-1zM567 515h1v1h-1zM581 515h1v1h-1zM601 515h1v1h-1zM610 515h1v1h-1zM642 515h1v1h-1zM651 515h1v1h-1zM743 515h1v1h-1zM773 515h1v1h-1zM820 515h1v1h-1zM867 515h1v1h-1zM878 515h1v1h-1zM904 515h1v1h-1zM55 516h1v1h-1zM71 516h1v1h-1zM135 516h2v1h-2zM138 516h1v1h-1zM233 516h1v1h-1zM271 516h1v1h-1zM315 516h1v1h-1zM325 516h1v1h-1zM392 516h1v1h-1zM403 516h1v1h-1zM447 516h2v1h-2zM468 516h2v1h-2zM484 516h1v1h-1zM507 516h1v1h-1zM567 516h1v1h-1zM581 516h1v1h-1zM602 516h1v1h-1zM610 516h1v1h-1zM642 516h1v1h-1zM651 516h1v1h-1zM744 516h1v1h-1zM773 516h1v1h-1zM820 516h1v1h-1zM847 516h3v1h-3zM866 516h1v1h-1zM879 516h1v1h-1zM903 516h1v1h-1zM56 517h1v1h-1zM71 517h1v1h-1zM137 517h1v1h-1zM233 517h1v1h-1zM270 517h1v1h-1zM315 517h1v1h-1zM325 517h1v1h-1zM392 517h1v1h-1zM403 517h1v1h-1zM449 517h1v1h-1zM458 517h6v1h-6zM466 517h2v1h-2zM485 517h1v1h-1zM506 517h1v1h-1zM567 517h1v1h-1zM580 517h1v1h-1zM602 517h1v1h-1zM609 517h1v1h-1zM643 517h1v1h-1zM650 517h1v1h-1zM744 517h1v1h-1zM773 517h1v1h-1zM821 517h1v1h-1zM843 517h4v1h-4zM850 517h2v1h-2zM866 517h1v1h-1zM879 517h1v1h-1zM903 517h1v1h-1zM56 518h1v1h-1zM70 518h1v1h-1zM233 518h1v1h-1zM270 518h1v1h-1zM315 518h1v1h-1zM324 518h1v1h-1zM393 518h1v1h-1zM401 518h2v1h-2zM450 518h1v1h-1zM456 518h2v1h-2zM464 518h2v1h-2zM485 518h1v1h-1zM505 518h1v1h-1zM568 518h1v1h-1zM580 518h1v1h-1zM603 518h1v1h-1zM609 518h1v1h-1zM643 518h1v1h-1zM650 518h1v1h-1zM745 518h1v1h-1zM772 518h1v1h-1zM821 518h1v1h-1zM841 518h2v1h-2zM852 518h2v1h-2zM865 518h1v1h-1zM880 518h1v1h-1zM903 518h1v1h-1zM57 519h1v1h-1zM70 519h1v1h-1zM234 519h1v1h-1zM269 519h1v1h-1zM316 519h1v1h-1zM324 519h1v1h-1zM394 519h2v1h-2zM399 519h2v1h-2zM451 519h2v1h-2zM454 519h2v1h-2zM486 519h1v1h-1zM505 519h1v1h-1zM568 519h1v1h-1zM579 519h1v1h-1zM603 519h1v1h-1zM608 519h1v1h-1zM644 519h1v1h-1zM650 519h1v1h-1zM745 519h1v1h-1zM772 519h1v1h-1zM822 519h2v1h-2zM840 519h1v1h-1zM854 519h1v1h-1zM863 519h2v1h-2zM880 519h1v1h-1zM902 519h1v1h-1zM57 520h1v1h-1zM69 520h1v1h-1zM234 520h1v1h-1zM269 520h1v1h-1zM316 520h1v1h-1zM324 520h1v1h-1zM396 520h3v1h-3zM453 520h1v1h-1zM487 520h1v1h-1zM504 520h1v1h-1zM568 520h1v1h-1zM578 520h1v1h-1zM603 520h1v1h-1zM608 520h1v1h-1zM644 520h1v1h-1zM649 520h1v1h-1zM746 520h1v1h-1zM771 520h1v1h-1zM824 520h2v1h-2zM833 520h1v1h-1zM839 520h1v1h-1zM855 520h1v1h-1zM862 520h1v1h-1zM881 520h1v1h-1zM902 520h1v1h-1zM58 521h1v1h-1zM69 521h1v1h-1zM234 521h1v1h-1zM268 521h1v1h-1zM316 521h1v1h-1zM323 521h1v1h-1zM487 521h1v1h-1zM503 521h1v1h-1zM569 521h1v1h-1zM578 521h1v1h-1zM604 521h1v1h-1zM607 521h1v1h-1zM645 521h1v1h-1zM649 521h1v1h-1zM746 521h1v1h-1zM771 521h1v1h-1zM826 521h1v1h-1zM832 521h1v1h-1zM834 521h2v1h-2zM838 521h1v1h-1zM856 521h1v1h-1zM859 521h3v1h-3zM881 521h1v1h-1zM902 521h1v1h-1zM59 522h1v1h-1zM68 522h1v1h-1zM235 522h1v1h-1zM268 522h1v1h-1zM316 522h1v1h-1zM323 522h1v1h-1zM488 522h1v1h-1zM501 522h2v1h-2zM569 522h1v1h-1zM577 522h1v1h-1zM604 522h1v1h-1zM606 522h1v1h-1zM645 522h1v1h-1zM647 522h2v1h-2zM747 522h1v1h-1zM758 522h2v1h-2zM770 522h1v1h-1zM827 522h1v1h-1zM831 522h1v1h-1zM836 522h2v1h-2zM857 522h2v1h-2zM881 522h1v1h-1zM902 522h1v1h-1zM59 523h1v1h-1zM68 523h1v1h-1zM235 523h1v1h-1zM267 523h1v1h-1zM317 523h1v1h-1zM323 523h1v1h-1zM489 523h1v1h-1zM500 523h1v1h-1zM570 523h1v1h-1zM576 523h1v1h-1zM605 523h2v1h-2zM646 523h1v1h-1zM748 523h1v1h-1zM756 523h2v1h-2zM760 523h3v1h-3zM770 523h1v1h-1zM827 523h1v1h-1zM831 523h1v1h-1zM882 523h1v1h-1zM901 523h1v1h-1zM60 524h1v1h-1zM67 524h1v1h-1zM235 524h1v1h-1zM267 524h1v1h-1zM317 524h1v1h-1zM322 524h1v1h-1zM490 524h2v1h-2zM498 524h2v1h-2zM570 524h1v1h-1zM575 524h1v1h-1zM605 524h1v1h-1zM748 524h1v1h-1zM755 524h1v1h-1zM763 524h2v1h-2zM769 524h1v1h-1zM828 524h1v1h-1zM830 524h1v1h-1zM882 524h1v1h-1zM901 524h1v1h-1zM60 525h1v1h-1zM66 525h1v1h-1zM236 525h1v1h-1zM266 525h1v1h-1zM318 525h1v1h-1zM322 525h1v1h-1zM492 525h2v1h-2zM496 525h2v1h-2zM571 525h1v1h-1zM574 525h1v1h-1zM749 525h2v1h-2zM753 525h2v1h-2zM765 525h5v1h-5zM829 525h1v1h-1zM883 525h1v1h-1zM901 525h1v1h-1zM61 526h2v1h-2zM66 526h1v1h-1zM236 526h1v1h-1zM266 526h1v1h-1zM319 526h3v1h-3zM494 526h2v1h-2zM571 526h1v1h-1zM573 526h1v1h-1zM751 526h2v1h-2zM883 526h1v1h-1zM900 526h1v1h-1zM63 527h3v1h-3zM236 527h1v1h-1zM265 527h1v1h-1zM321 527h1v1h-1zM572 527h1v1h-1zM883 527h1v1h-1zM900 527h1v1h-1zM237 528h1v1h-1zM264 528h1v1h-1zM884 528h1v1h-1zM899 528h1v1h-1zM237 529h1v1h-1zM253 529h2v1h-2zM263 529h1v1h-1zM884 529h1v1h-1zM899 529h1v1h-1zM238 530h1v1h-1zM251 530h2v1h-2zM255 530h2v1h-2zM263 530h1v1h-1zM885 530h1v1h-1zM898 530h1v1h-1zM238 531h1v1h-1zM249 531h2v1h-2zM257 531h3v1h-3zM262 531h1v1h-1zM886 531h1v1h-1zM898 531h1v1h-1zM239 532h1v1h-1zM248 532h1v1h-1zM260 532h2v1h-2zM887 532h1v1h-1zM897 532h1v1h-1zM240 533h1v1h-1zM246 533h2v1h-2zM888 533h1v1h-1zM896 533h1v1h-1zM240 534h1v1h-1zM243 534h3v1h-3zM889 534h1v1h-1zM895 534h1v1h-1zM241 535h2v1h-2zM890 535h2v1h-2zM894 535h1v1h-1zM892 536h2v1h-2z" fill="#FF0000" shape-rendering="crispEdges"/>
<g shape-rendering="crispEdges" fill="#000">
<rect x="4" y="4" width="1234" height="1"/>
<rect x="4" y="4" width="1" height="541"/>
<rect x="1237" y="4" width="1" height="541"/>
<rect x="4" y="464" width="1234" height="1"/>
<rect x="4" y="466" width="1234" height="1"/>
<rect x="4" y="544" width="1234" height="1"/>
<rect x="4" y="465" width="1233" height="1" fill="#fff"/>
<rect x="1238" y="32" width="2" height="1"/>
<rect x="1238" y="65" width="2" height="1"/>
<rect x="1238" y="98" width="2" height="1"/>
<rect x="1238" y="131" width="2" height="1"/>
<rect x="1238" y="164" width="2" height="1"/>
<rect x="1238" y="197" width="2" height="1"/>
<rect x="1238" y="230" width="2" height="1"/>
<rect x="1238" y="263" width="2" height="1"/>
<rect x="1238" y="296" width="2" height="1"/>
<rect x="1238" y="329" width="2" height="1"/>
<rect x="1238" y="362" width="2" height="1"/>
<rect x="1238" y="395" width="2" height="1"/>
<rect x="1238" y="428" width="2" height="1"/>
<rect x="1238" y="461" width="2" height="1"/>
<rect x="1238" y="468" width="1" height="1"/>
<rect x="1238" y="543" width="1" height="1"/>
<rect x="5" y="545" width="1" height="3"/>
<rect x="69" y="545" width="1" height="3"/>
<rect x="133" y="545" width="1" height="3"/>
<rect x="197" y="545" width="1" height="3"/>
<rect x="261" y="545" width="1" height="3"/>
<rect x="325" y="545" width="1" height="3"/>
<rect x="389" y="545" width="1" height="3"/>
<rect x="453" y="545" width="1" height="3"/>
<rect x="517" y="545" width="1" height="3"/>
<rect x="581" y="545" width="1" height="3"/>
<rect x="645" y="545" width="1" height="3"/>
<rect x="709" y="545" width="1" height="3"/>
<rect x="773" y="545" width="1" height="3"/>
<rect x="837" y="545" width="1" height="3"/>
<rect x="901" y="545" width="1" height="3"/>
</g>
<g shape-rendering="crispEdges">
<rect x="0" y="0" width="1280" height="1" fill="#ABABAB"/>
<rect x="0" y="1" width="1280" height="1" fill="#8E8E8E"/>
<rect x="0" y="0" width="1" height="566" fill="#ABABAB"/>
<rect x="1" y="1" width="1" height="565" fill="#8E8E8E"/>
<rect x="1278" y="2" width="1" height="564" fill="#E3E3E3"/>
<rect x="2" y="565" width="1277" height="1" fill="#E3E3E3"/>
</g>
<polygon points="960,5 969.5,5 964.7,10.3" fill="#C0C0C0"/>
<polygon points="8,11 15.5,11 11.75,15" fill="#000"/>
<text transform="translate(0,16) scale(1,1)" x="19.7" y="0" font-size="9.8" textLength="54.3" lengthAdjust="spacingAndGlyphs" fill="#000" stroke="#000" stroke-width="0.25" xml:space="preserve">XMRUSD,H4</text>
<text transform="translate(0,16) scale(1,1)" x="80.4" y="0" font-size="9.8" textLength="27.3" lengthAdjust="spacingAndGlyphs" fill="#000" stroke="#000" stroke-width="0.25" xml:space="preserve">396.98</text>
<text transform="translate(0,16) scale(1,1)" x="111.3" y="0" font-size="9.8" textLength="27.4" lengthAdjust="spacingAndGlyphs" fill="#000" stroke="#000" stroke-width="0.25" xml:space="preserve">397.88</text>
<text transform="translate(0,16) scale(1,1)" x="142" y="0" font-size="9.8" textLength="27.8" lengthAdjust="spacingAndGlyphs" fill="#000" stroke="#000" stroke-width="0.25" xml:space="preserve">394.30</text>
<text transform="translate(0,16) scale(1,1)" x="173.1" y="0" font-size="9.8" textLength="27.8" lengthAdjust="spacingAndGlyphs" fill="#000" stroke="#000" stroke-width="0.25" xml:space="preserve">394.98</text>
<text transform="translate(0,36.1) scale(1,1)" x="1243" y="0" font-size="9.8" textLength="27.5" lengthAdjust="spacingAndGlyphs" fill="#000" stroke="#000" stroke-width="0.25" xml:space="preserve">468.70</text>
<text transform="translate(0,69.1) scale(1,1)" x="1243" y="0" font-size="9.8" textLength="27.5" lengthAdjust="spacingAndGlyphs" fill="#000" stroke="#000" stroke-width="0.25" xml:space="preserve">457.15</text>
<text transform="translate(0,102.1) scale(1,1)" x="1243" y="0" font-size="9.8" textLength="27.5" lengthAdjust="spacingAndGlyphs" fill="#000" stroke="#000" stroke-width="0.25" xml:space="preserve">445.25</text>
<text transform="translate(0,135.1) scale(1,1)" x="1243" y="0" font-size="9.8" textLength="27.5" lengthAdjust="spacingAndGlyphs" fill="#000" stroke="#000" stroke-width="0.25" xml:space="preserve">433.70</text>
<text transform="translate(0,168.1) scale(1,1)" x="1243" y="0" font-size="9.8" textLength="27.5" lengthAdjust="spacingAndGlyphs" fill="#000" stroke="#000" stroke-width="0.25" xml:space="preserve">421.80</text>
<text transform="translate(0,201.1) scale(1,1)" x="1243" y="0" font-size="9.8" textLength="27.5" lengthAdjust="spacingAndGlyphs" fill="#000" stroke="#000" stroke-width="0.25" xml:space="preserve">410.25</text>
<text transform="translate(0,234.1) scale(1,1)" x="1243" y="0" font-size="9.8" textLength="27.5" lengthAdjust="spacingAndGlyphs" fill="#000" stroke="#000" stroke-width="0.25" xml:space="preserve">398.35</text>
<text transform="translate(0,300.1) scale(1,1)" x="1243" y="0" font-size="9.8" textLength="27.5" lengthAdjust="spacingAndGlyphs" fill="#000" stroke="#000" stroke-width="0.25" xml:space="preserve">374.90</text>
<text transform="translate(0,333.1) scale(1,1)" x="1243" y="0" font-size="9.8" textLength="27.5" lengthAdjust="spacingAndGlyphs" fill="#000" stroke="#000" stroke-width="0.25" xml:space="preserve">363.35</text>
<text transform="translate(0,366.1) scale(1,1)" x="1243" y="0" font-size="9.8" textLength="27.5" lengthAdjust="spacingAndGlyphs" fill="#000" stroke="#000" stroke-width="0.25" xml:space="preserve">351.45</text>
<text transform="translate(0,399.1) scale(1,1)" x="1243" y="0" font-size="9.8" textLength="27.5" lengthAdjust="spacingAndGlyphs" fill="#000" stroke="#000" stroke-width="0.25" xml:space="preserve">339.90</text>
<text transform="translate(0,432.1) scale(1,1)" x="1243" y="0" font-size="9.8" textLength="27.5" lengthAdjust="spacingAndGlyphs" fill="#000" stroke="#000" stroke-width="0.25" xml:space="preserve">328.00</text>
<text transform="translate(0,465.1) scale(1,1)" x="1243" y="0" font-size="9.8" textLength="27.5" lengthAdjust="spacingAndGlyphs" fill="#000" stroke="#000" stroke-width="0.25" xml:space="preserve">316.45</text>
<g shape-rendering="crispEdges">
<rect x="1239" y="186" width="36" height="11" fill="#DC143C"/>
<rect x="1239" y="235" width="36" height="11" fill="#000000"/>
<rect x="1239" y="258" width="36" height="11" fill="#3CB371"/>
</g>
<text transform="translate(0,194.8) scale(1,1)" x="1243" y="0" font-size="9.8" textLength="27.5" lengthAdjust="spacingAndGlyphs" fill="#fff" stroke="#fff" stroke-width="0.25" xml:space="preserve">411.93</text>
<text transform="translate(0,243.8) scale(1,1)" x="1243" y="0" font-size="9.8" textLength="27.5" lengthAdjust="spacingAndGlyphs" fill="#fff" stroke="#fff" stroke-width="0.25" xml:space="preserve">394.98</text>
<text transform="translate(0,266.8) scale(1,1)" x="1243" y="0" font-size="9.8" textLength="27.5" lengthAdjust="spacingAndGlyphs" fill="#fff" stroke="#fff" stroke-width="0.25" xml:space="preserve">386.38</text>
<text transform="translate(0,477) scale(1,1)" x="1241.6" y="0" font-size="9.8" textLength="14.6" lengthAdjust="spacingAndGlyphs" fill="#000" stroke="#000" stroke-width="0.25" xml:space="preserve">100</text>
<text transform="translate(0,487) scale(1,1)" x="1240.3" y="0" font-size="9.8" textLength="10" lengthAdjust="spacingAndGlyphs" fill="#000" stroke="#000" stroke-width="0.25" xml:space="preserve">80</text>
<text transform="translate(0,532) scale(1,1)" x="1240.3" y="0" font-size="9.8" textLength="10" lengthAdjust="spacingAndGlyphs" fill="#000" stroke="#000" stroke-width="0.25" xml:space="preserve">20</text>
<text transform="translate(0,541.2) scale(1,1)" x="1241.3" y="0" font-size="9.8" textLength="5" lengthAdjust="spacingAndGlyphs" fill="#000" stroke="#000" stroke-width="0.25" xml:space="preserve">0</text>
<text transform="translate(0,479) scale(1,1)" x="9.4" y="0" font-size="9.8" textLength="112.6" lengthAdjust="spacingAndGlyphs" fill="#000" stroke="#000" stroke-width="0.25" xml:space="preserve">Sto(5,3,3) 91.9773 92.6163</text>
<text transform="translate(0,557) scale(1,1)" x="4.3" y="0" font-size="9.8" textLength="50.3" lengthAdjust="spacingAndGlyphs" fill="#000" stroke="#000" stroke-width="0.25" xml:space="preserve">31 Oct 2025</text>
<text transform="translate(0,557) scale(1,1)" x="68.3" y="0" font-size="9.8" textLength="51.4" lengthAdjust="spacingAndGlyphs" fill="#000" stroke="#000" stroke-width="0.25" xml:space="preserve">3 Nov 12:00</text>
<text transform="translate(0,557) scale(1,1)" x="132.3" y="0" font-size="9.8" textLength="51.4" lengthAdjust="spacingAndGlyphs" fill="#000" stroke="#000" stroke-width="0.25" xml:space="preserve">6 Nov 04:00</text>
<text transform="translate(0,557) scale(1,1)" x="196.3" y="0" font-size="9.8" textLength="51.4" lengthAdjust="spacingAndGlyphs" fill="#000" stroke="#000" stroke-width="0.25" xml:space="preserve">8 Nov 20:00</text>
<text transform="translate(0,557) scale(1,1)" x="260.3" y="0" font-size="9.8" textLength="56.2" lengthAdjust="spacingAndGlyphs" fill="#000" stroke="#000" stroke-width="0.25" xml:space="preserve">11 Nov 12:00</text>
<text transform="translate(0,557) scale(1,1)" x="324.3" y="0" font-size="9.8" textLength="56.2" lengthAdjust="spacingAndGlyphs" fill="#000" stroke="#000" stroke-width="0.25" xml:space="preserve">14 Nov 04:00</text>
<text transform="translate(0,557) scale(1,1)" x="388.3" y="0" font-size="9.8" textLength="56.2" lengthAdjust="spacingAndGlyphs" fill="#000" stroke="#000" stroke-width="0.25" xml:space="preserve">16 Nov 20:00</text>
<text transform="translate(0,557) scale(1,1)" x="452.3" y="0" font-size="9.8" textLength="56.2" lengthAdjust="spacingAndGlyphs" fill="#000" stroke="#000" stroke-width="0.25" xml:space="preserve">19 Nov 12:00</text>
<text transform="translate(0,557) scale(1,1)" x="516.3" y="0" font-size="9.8" textLength="56.2" lengthAdjust="spacingAndGlyphs" fill="#000" stroke="#000" stroke-width="0.25" xml:space="preserve">22 Nov 04:00</text>
<text transform="translate(0,557) scale(1,1)" x="580.3" y="0" font-size="9.8" textLength="56.2" lengthAdjust="spacingAndGlyphs" fill="#000" stroke="#000" stroke-width="0.25" xml:space="preserve">24 Nov 20:00</text>
<text transform="translate(0,557) scale(1,1)" x="644.3" y="0" font-size="9.8" textLength="56.2" lengthAdjust="spacingAndGlyphs" fill="#000" stroke="#000" stroke-width="0.25" xml:space="preserve">27 Nov 12:00</text>
<text transform="translate(0,557) scale(1,1)" x="708.3" y="0" font-size="9.8" textLength="56.2" lengthAdjust="spacingAndGlyphs" fill="#000" stroke="#000" stroke-width="0.25" xml:space="preserve">30 Nov 04:00</text>
<text transform="translate(0,557) scale(1,1)" x="772.3" y="0" font-size="9.8" textLength="51.4" lengthAdjust="spacingAndGlyphs" fill="#000" stroke="#000" stroke-width="0.25" xml:space="preserve">2 Dec 20:00</text>
<text transform="translate(0,557) scale(1,1)" x="836.3" y="0" font-size="9.8" textLength="51.4" lengthAdjust="spacingAndGlyphs" fill="#000" stroke="#000" stroke-width="0.25" xml:space="preserve">5 Dec 12:00</text>
<text transform="translate(0,557) scale(1,1)" x="900.3" y="0" font-size="9.8" textLength="51.4" lengthAdjust="spacingAndGlyphs" fill="#000" stroke="#000" stroke-width="0.25" xml:space="preserve">8 Dec 04:00</text>
</svg>
</body></html>
